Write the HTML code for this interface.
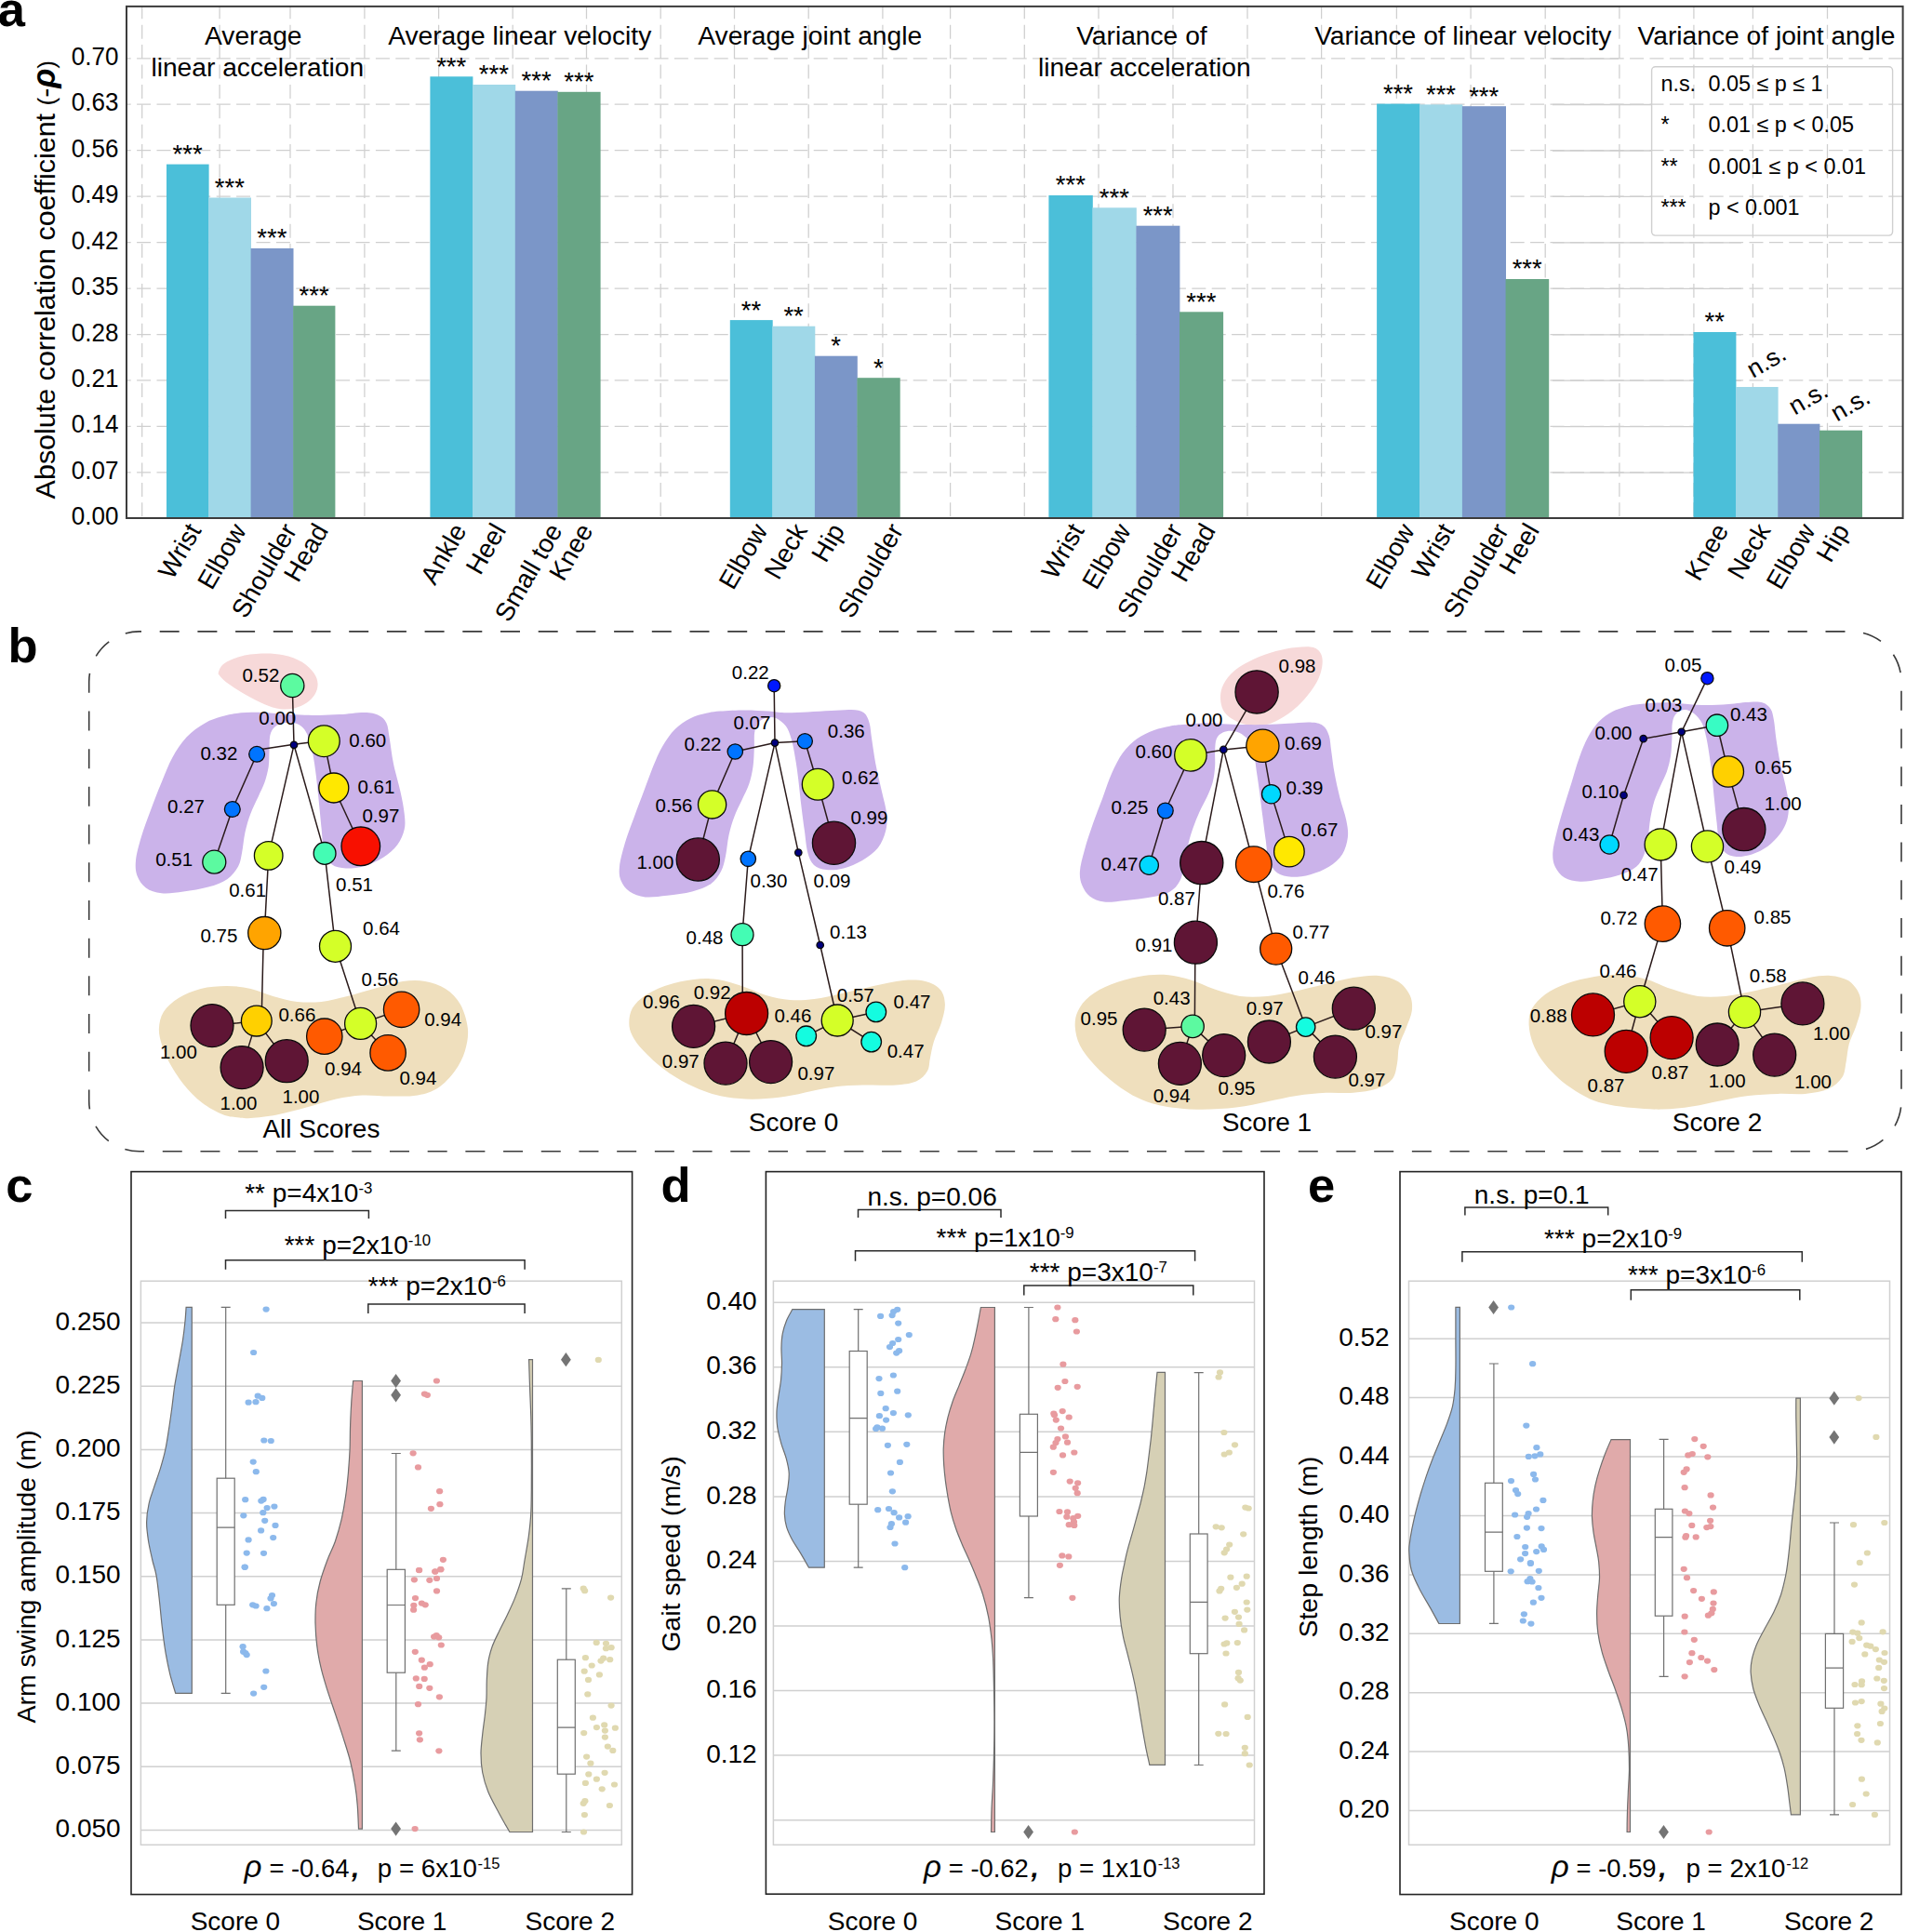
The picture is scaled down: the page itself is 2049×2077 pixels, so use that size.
<!DOCTYPE html>
<html><head><meta charset="utf-8"><title>Figure</title>
<style>
html,body{margin:0;padding:0;background:#fff;}
body{width:2049px;height:2077px;overflow:hidden;}
svg{display:block;font-family:"Liberation Sans",sans-serif;}
text{fill:#000;}
</style></head><body>
<svg width="2049" height="2077" viewBox="0 0 2049 2077">
<rect x="0" y="0" width="2049" height="2077" fill="#fff"/>
<g id="panel-a">
<path d="M1669 508.1H1872 M1669 458.7H1872 M1669 409.2H1872 M1669 359.8H1872 M1669 310.3H1872 M1669 260.9H1872 M1669 211.4H1872 M1669 162.0H1872 M1669 112.5H1872 M1669 63.1H1740" stroke="#cdcdcd" stroke-width="1.3" fill="none"/>
<rect x="1775.6" y="71.8" width="259" height="181.3" rx="4" fill="#fff"/>
<path d="M152.7 6.9V557.0 M236.1 6.9V557.0 M312 6.9V557.0 M391.9 6.9V557.0 M471.6 6.9V557.0 M551.2 6.9V557.0 M630.5 6.9V557.0 M710.2 6.9V557.0 M789.5 6.9V557.0 M869.2 6.9V557.0 M948.9 6.9V557.0 M1021.6 6.9V557.0 M1101.3 6.9V557.0 M1181 6.9V557.0 M1261 6.9V557.0 M1341 6.9V557.0 M1420.6 6.9V557.0 M1501.4 6.9V557.0 M1581.1 6.9V557.0 M1661.2 6.9V557.0 M1740.9 6.9V557.0 M1820.9 6.9V557.0 M1884.4 6.9V557.0 M1964.5 6.9V557.0" stroke="#cfcfcf" stroke-width="1.25" stroke-dasharray="15 6.4" stroke-dashoffset="1.6" fill="none"/>
<path d="M136.0 507.8H2045.6 M136.0 458.4H2045.6 M136.0 408.9H2045.6 M136.0 359.5H2045.6 M136.0 310.0H2045.6 M136.0 260.6H2045.6 M136.0 211.1H2045.6 M136.0 161.7H2045.6 M136.0 112.2H2045.6 M136.0 62.8H2045.6" stroke="#cfcfcf" stroke-width="1.25" stroke-dasharray="15 6.4" stroke-dashoffset="-11.1" fill="none"/>
<rect x="179.0" y="176.6" width="45.6" height="380.4" fill="#4bbfd9"/>
<rect x="224.2" y="212.5" width="45.8" height="344.5" fill="#a0d8e8"/>
<rect x="269.6" y="267.0" width="45.9" height="290.0" fill="#7b96c8"/>
<rect x="315.1" y="328.7" width="45.3" height="228.3" fill="#68a585"/>
<text x="201.6" y="175.0" font-size="27.5" text-anchor="middle">***</text>
<text transform="translate(217.0,570.0) rotate(-60)" font-size="27.8" text-anchor="end">Wrist</text>
<text x="246.9" y="210.9" font-size="27.5" text-anchor="middle">***</text>
<text transform="translate(265.5,570.0) rotate(-60)" font-size="27.8" text-anchor="end">Elbow</text>
<text x="292.4" y="265.4" font-size="27.5" text-anchor="middle">***</text>
<text transform="translate(319.8,570.0) rotate(-60)" font-size="27.8" text-anchor="end">Shoulder</text>
<text x="337.6" y="327.1" font-size="27.5" text-anchor="middle">***</text>
<text transform="translate(353.8,570.0) rotate(-60)" font-size="27.8" text-anchor="end">Head</text>
<rect x="462.4" y="82.3" width="46.0" height="474.7" fill="#4bbfd9"/>
<rect x="508.0" y="91.0" width="46.2" height="466.0" fill="#a0d8e8"/>
<rect x="553.8" y="97.7" width="46.0" height="459.3" fill="#7b96c8"/>
<rect x="599.4" y="98.8" width="46.2" height="458.2" fill="#68a585"/>
<text x="485.2" y="80.7" font-size="27.5" text-anchor="middle">***</text>
<text transform="translate(502.3,570.0) rotate(-60)" font-size="27.8" text-anchor="end">Ankle</text>
<text x="530.9" y="89.4" font-size="27.5" text-anchor="middle">***</text>
<text transform="translate(544.9,570.0) rotate(-60)" font-size="27.8" text-anchor="end">Heel</text>
<text x="576.6" y="96.1" font-size="27.5" text-anchor="middle">***</text>
<text transform="translate(605.2,570.0) rotate(-60)" font-size="27.8" text-anchor="end">Small toe</text>
<text x="622.3" y="97.2" font-size="27.5" text-anchor="middle">***</text>
<text transform="translate(638.2,570.0) rotate(-60)" font-size="27.8" text-anchor="end">Knee</text>
<rect x="784.8" y="344.1" width="45.9" height="212.9" fill="#4bbfd9"/>
<rect x="830.3" y="350.7" width="46.0" height="206.3" fill="#a0d8e8"/>
<rect x="875.9" y="382.7" width="45.9" height="174.3" fill="#7b96c8"/>
<rect x="921.4" y="406.2" width="46.3" height="150.8" fill="#68a585"/>
<text x="807.5" y="342.5" font-size="27.5" text-anchor="middle">**</text>
<text transform="translate(826.1,570.0) rotate(-60)" font-size="27.8" text-anchor="end">Elbow</text>
<text x="853.1" y="349.1" font-size="27.5" text-anchor="middle">**</text>
<text transform="translate(868.6,570.0) rotate(-60)" font-size="27.8" text-anchor="end">Neck</text>
<text x="898.6" y="381.1" font-size="27.5" text-anchor="middle">*</text>
<text transform="translate(908.7,570.0) rotate(-60)" font-size="27.8" text-anchor="end">Hip</text>
<text x="944.3" y="404.6" font-size="27.5" text-anchor="middle">*</text>
<text transform="translate(971.8,570.0) rotate(-60)" font-size="27.8" text-anchor="end">Shoulder</text>
<rect x="1127.4" y="210.0" width="47.4" height="347.0" fill="#4bbfd9"/>
<rect x="1174.4" y="223.3" width="47.4" height="333.7" fill="#a0d8e8"/>
<rect x="1221.4" y="242.7" width="47.0" height="314.3" fill="#7b96c8"/>
<rect x="1268.0" y="335.3" width="47.1" height="221.7" fill="#68a585"/>
<text x="1150.9" y="208.4" font-size="27.5" text-anchor="middle">***</text>
<text transform="translate(1166.3,570.0) rotate(-60)" font-size="27.8" text-anchor="end">Wrist</text>
<text x="1197.9" y="221.7" font-size="27.5" text-anchor="middle">***</text>
<text transform="translate(1216.5,570.0) rotate(-60)" font-size="27.8" text-anchor="end">Elbow</text>
<text x="1244.7" y="241.1" font-size="27.5" text-anchor="middle">***</text>
<text transform="translate(1272.2,570.0) rotate(-60)" font-size="27.8" text-anchor="end">Shoulder</text>
<text x="1291.3" y="333.7" font-size="27.5" text-anchor="middle">***</text>
<text transform="translate(1307.6,570.0) rotate(-60)" font-size="27.8" text-anchor="end">Head</text>
<rect x="1480.1" y="111.6" width="46.3" height="445.4" fill="#4bbfd9"/>
<rect x="1526.0" y="112.4" width="46.3" height="444.6" fill="#a0d8e8"/>
<rect x="1571.9" y="114.2" width="47.1" height="442.8" fill="#7b96c8"/>
<rect x="1618.6" y="300.0" width="46.6" height="257.0" fill="#68a585"/>
<text x="1503.0" y="110.0" font-size="27.5" text-anchor="middle">***</text>
<text transform="translate(1521.6,570.0) rotate(-60)" font-size="27.8" text-anchor="end">Elbow</text>
<text x="1549.0" y="110.8" font-size="27.5" text-anchor="middle">***</text>
<text transform="translate(1564.3,570.0) rotate(-60)" font-size="27.8" text-anchor="end">Wrist</text>
<text x="1595.2" y="112.6" font-size="27.5" text-anchor="middle">***</text>
<text transform="translate(1622.7,570.0) rotate(-60)" font-size="27.8" text-anchor="end">Shoulder</text>
<text x="1641.7" y="298.4" font-size="27.5" text-anchor="middle">***</text>
<text transform="translate(1655.7,570.0) rotate(-60)" font-size="27.8" text-anchor="end">Heel</text>
<rect x="1820.5" y="357.0" width="45.9" height="200.0" fill="#4bbfd9"/>
<rect x="1866.0" y="416.0" width="45.6" height="141.0" fill="#a0d8e8"/>
<rect x="1911.2" y="455.7" width="45.2" height="101.3" fill="#7b96c8"/>
<rect x="1956.0" y="462.7" width="46.0" height="94.3" fill="#68a585"/>
<text x="1843.2" y="355.4" font-size="27.5" text-anchor="middle">**</text>
<text transform="translate(1859.1,570.0) rotate(-60)" font-size="27.8" text-anchor="end">Knee</text>
<text transform="translate(1884.6,407.0) rotate(-30)" font-size="27" text-anchor="start">n.s.</text>
<text transform="translate(1904.1,570.0) rotate(-60)" font-size="27.8" text-anchor="end">Neck</text>
<text transform="translate(1929.6,446.7) rotate(-30)" font-size="27" text-anchor="start">n.s.</text>
<text transform="translate(1952.2,570.0) rotate(-60)" font-size="27.8" text-anchor="end">Elbow</text>
<text transform="translate(1974.8,453.7) rotate(-30)" font-size="27" text-anchor="start">n.s.</text>
<text transform="translate(1988.9,570.0) rotate(-60)" font-size="27.8" text-anchor="end">Hip</text>
<rect x="136.0" y="6.9" width="1909.6" height="550.1" fill="none" stroke="#3c3c3c" stroke-width="2"/>
<text x="127.4" y="564.3" font-size="28" textLength="50.6" lengthAdjust="spacingAndGlyphs" text-anchor="end">0.00</text>
<text x="127.4" y="514.8" font-size="28" textLength="50.6" lengthAdjust="spacingAndGlyphs" text-anchor="end">0.07</text>
<text x="127.4" y="465.4" font-size="28" textLength="50.6" lengthAdjust="spacingAndGlyphs" text-anchor="end">0.14</text>
<text x="127.4" y="415.9" font-size="28" textLength="50.6" lengthAdjust="spacingAndGlyphs" text-anchor="end">0.21</text>
<text x="127.4" y="366.5" font-size="28" textLength="50.6" lengthAdjust="spacingAndGlyphs" text-anchor="end">0.28</text>
<text x="127.4" y="317.0" font-size="28" textLength="50.6" lengthAdjust="spacingAndGlyphs" text-anchor="end">0.35</text>
<text x="127.4" y="267.6" font-size="28" textLength="50.6" lengthAdjust="spacingAndGlyphs" text-anchor="end">0.42</text>
<text x="127.4" y="218.1" font-size="28" textLength="50.6" lengthAdjust="spacingAndGlyphs" text-anchor="end">0.49</text>
<text x="127.4" y="168.7" font-size="28" textLength="50.6" lengthAdjust="spacingAndGlyphs" text-anchor="end">0.56</text>
<text x="127.4" y="119.2" font-size="28" textLength="50.6" lengthAdjust="spacingAndGlyphs" text-anchor="end">0.63</text>
<text x="127.4" y="69.8" font-size="28" textLength="50.6" lengthAdjust="spacingAndGlyphs" text-anchor="end">0.70</text>
<text transform="translate(58.8,536.4) rotate(-90)" font-size="30" textLength="414.5" lengthAdjust="spacingAndGlyphs">Absolute correlation coefficient</text>
<text transform="translate(58.8,113.5) rotate(-90)" font-size="30"><tspan font-size="26">(</tspan><tspan dx="0">-</tspan><tspan font-style="italic" font-weight="bold" font-size="35" dx="0">ρ</tspan><tspan dx="0" font-size="26">)</tspan></text>
<text x="272.3" y="47.7" font-size="28.2" text-anchor="middle">Average</text>
<text x="276.8" y="81.8" font-size="28.2" text-anchor="middle">linear acceleration</text>
<text x="558.7" y="47.7" font-size="28.2" text-anchor="middle">Average linear velocity</text>
<text x="870.7" y="47.5" font-size="28.2" text-anchor="middle">Average joint angle</text>
<text x="1227.4" y="47.5" font-size="28.2" text-anchor="middle">Variance of</text>
<text x="1230.3" y="81.7" font-size="28.2" text-anchor="middle">linear acceleration</text>
<text x="1572.7" y="47.5" font-size="28.2" text-anchor="middle">Variance of linear velocity</text>
<text x="1899.0" y="47.5" font-size="28.2" text-anchor="middle">Variance of joint angle</text>
<rect x="1775.6" y="71.8" width="259" height="181.3" rx="4" fill="none" stroke="#cfcfcf" stroke-width="1.4"/>
<text x="1785.4" y="97.8" font-size="23.4">n.s.</text>
<text x="1836.4" y="97.8" font-size="23.4">0.05 ≤ p ≤ 1</text>
<text x="1785.4" y="142.3" font-size="23.4">*</text>
<text x="1836.4" y="142.3" font-size="23.4">0.01 ≤ p &lt; 0.05</text>
<text x="1785.4" y="186.7" font-size="23.4">**</text>
<text x="1836.4" y="186.7" font-size="23.4">0.001 ≤ p &lt; 0.01</text>
<text x="1785.4" y="231.4" font-size="23.4">***</text>
<text x="1836.4" y="231.4" font-size="23.4">p &lt; 0.001</text>
<text x="-2.2" y="28.2" font-size="52.5" font-weight="bold">a</text>
</g>
<g id="panel-b">
<rect x="95.7" y="678.9" width="1948.3" height="558.9" rx="54" ry="54" fill="none" stroke="#3a3a3a" stroke-width="1.6" stroke-dasharray="21 19.7" stroke-dashoffset="-22"/>
<text x="8.4" y="712.2" font-size="52.5" font-weight="bold">b</text>
<path d="M234.9 722.7C235.6 720.5 237.0 716.3 240.8 713.5C244.6 710.7 250.9 707.8 257.6 706.0C264.3 704.1 273.3 702.9 281.1 702.6C288.9 702.3 297.3 702.7 304.6 704.3C311.9 705.8 319.3 708.6 324.8 711.8C330.2 715.0 334.6 719.7 337.4 723.6C340.2 727.5 341.4 731.4 341.6 735.3C341.7 739.3 340.2 743.7 338.2 747.1C336.2 750.4 333.4 753.1 329.8 755.5C326.2 757.9 321.1 760.2 316.4 761.4C311.6 762.5 306.6 762.9 301.3 762.2C295.9 761.5 290.6 759.7 284.5 757.2C278.3 754.6 270.8 750.7 264.3 747.1C257.9 743.4 250.5 738.7 245.8 735.3C241.2 732.0 238.4 729.0 236.6 726.9C234.8 724.8 234.2 725.0 234.9 722.7Z" fill="#f7d9d9"/>
<path d="M254.2 766.9C261.5 766.1 272.4 765.7 281.1 765.9C289.8 766.0 296.5 767.2 306.3 767.7C316.1 768.2 330.1 768.9 339.9 768.9C349.7 769.0 356.4 768.6 365.1 768.1C373.7 767.6 384.9 765.7 391.9 765.9C398.9 766.0 403.1 767.0 407.0 768.9C410.9 770.8 413.5 773.1 415.4 777.3C417.4 781.5 417.5 786.8 418.8 794.1C420.0 801.4 421.0 811.4 423.0 821.0C424.9 830.5 428.6 842.2 430.5 851.2C432.5 860.1 434.0 868.0 434.7 874.7C435.4 881.4 436.0 885.9 434.7 891.5C433.5 897.1 431.0 903.2 427.2 908.3C423.4 913.3 417.9 917.9 412.1 921.7C406.2 925.5 398.6 929.0 391.9 930.9C385.2 932.9 377.6 933.7 371.8 933.5C365.9 933.2 360.6 932.3 356.7 929.3C352.7 926.2 350.1 921.3 348.3 915.0C346.4 908.7 346.7 901.0 345.7 891.5C344.8 882.0 343.5 868.5 342.4 857.9C341.3 847.3 340.2 836.1 339.0 827.7C337.9 819.3 336.9 813.4 335.7 807.5C334.4 801.7 333.2 796.6 331.5 792.4C329.8 788.2 328.1 784.9 325.6 782.3C323.1 779.8 319.9 778.1 316.4 777.3C312.9 776.5 308.1 776.6 304.6 777.3C301.1 778.0 297.8 779.3 295.4 781.5C293.0 783.7 291.3 786.4 290.3 790.7C289.4 795.1 289.8 801.9 289.5 807.5C289.2 813.1 289.5 818.7 288.7 824.3C287.8 829.9 286.3 835.8 284.5 841.1C282.6 846.4 280.3 850.6 277.8 856.2C275.2 861.8 271.7 868.3 269.4 874.7C267.0 881.1 265.0 887.8 263.5 894.8C261.9 901.8 261.4 910.5 260.1 916.7C258.9 922.8 258.6 927.0 255.9 931.8C253.3 936.5 249.5 941.6 244.2 945.2C238.9 948.8 231.9 951.4 224.0 953.6C216.2 955.8 205.6 957.5 197.2 958.6C188.8 959.8 180.4 961.0 173.7 960.3C166.9 959.6 161.2 957.5 156.9 954.4C152.5 951.4 149.4 946.7 147.6 941.8C145.8 936.9 145.3 932.1 146.0 925.1C146.6 918.1 149.2 908.8 151.8 899.9C154.5 890.9 158.3 881.1 161.9 871.3C165.5 861.5 169.7 850.6 173.7 841.1C177.6 831.6 180.9 822.4 185.4 814.2C189.9 806.1 194.6 798.6 200.5 792.4C206.4 786.3 214.5 780.9 220.7 777.3C226.8 773.7 231.9 772.3 237.5 770.6C243.1 768.9 247.0 767.7 254.2 766.9Z" fill="#cbb3ea"/>
<path d="M170.9 1105.8C171.2 1099.8 172.4 1093.3 175.9 1087.8C179.4 1082.3 185.2 1077.0 191.9 1072.9C198.5 1068.7 207.2 1065.1 215.8 1062.9C224.4 1060.7 234.7 1059.9 243.7 1059.9C252.7 1059.9 261.3 1061.1 269.6 1062.9C277.9 1064.7 285.2 1068.5 293.5 1070.9C301.8 1073.2 310.8 1075.9 319.5 1076.9C328.1 1077.8 336.4 1077.8 345.4 1076.9C354.3 1075.9 363.3 1073.4 373.3 1070.9C383.3 1068.4 395.2 1064.6 405.2 1061.9C415.2 1059.2 424.5 1056.1 433.1 1054.9C441.7 1053.8 449.4 1053.6 457.0 1054.9C464.7 1056.2 472.6 1058.7 478.9 1062.9C485.3 1067.0 490.9 1072.7 494.9 1079.8C498.9 1087.0 502.0 1097.5 502.9 1105.8C503.7 1114.1 502.2 1122.0 499.9 1129.7C497.6 1137.3 493.7 1145.0 488.9 1151.6C484.1 1158.3 477.6 1165.2 471.0 1169.6C464.3 1173.9 457.7 1176.0 449.0 1177.5C440.4 1179.0 429.1 1178.5 419.1 1178.5C409.2 1178.5 398.9 1177.0 389.2 1177.5C379.6 1178.0 371.3 1179.4 361.3 1181.5C351.4 1183.7 340.1 1187.7 329.4 1190.5C318.8 1193.3 307.5 1196.5 297.5 1198.5C287.6 1200.4 276.7 1201.5 269.6 1202.0C262.5 1202.5 260.0 1202.0 254.9 1201.3C249.8 1200.6 245.5 1200.7 239.2 1198.0C232.9 1195.3 224.2 1190.8 217.2 1185.4C210.2 1180.0 203.1 1172.8 197.2 1165.4C191.2 1158.1 185.3 1148.3 181.5 1141.3C177.7 1134.3 175.9 1129.4 174.1 1123.5C172.3 1117.6 170.6 1111.7 170.9 1105.8Z" fill="#efdfbd"/>
<path d="M314.3 737.0L316.0 800.8M316.0 800.3L281.0 805.5M276.1 810.8L249.8 870.0M249.8 870.0L230.3 926.7M316.0 800.3L340.0 797.3M348.3 796.7L358.8 847.0M358.8 847.0L387.8 909.8M316.0 800.8L288.7 919.9M316.0 800.8L349.1 917.4M288.7 919.9L284.3 1003.1M349.1 917.4L360.5 1017.3M283.2 1010.0L281.3 1090.0M360.5 1017.3L387.6 1100.4M275.8 1097.6L228.0 1102.6M275.8 1097.6L260.1 1147.6M275.8 1097.6L308.2 1140.7M387.6 1100.4L348.8 1114.2M387.6 1100.4L431.6 1085.3M387.6 1100.4L417.1 1131.9" stroke="#2a1a1a" stroke-width="1.5" fill="none"/>
<circle cx="314.3" cy="737.0" r="12.6" fill="#5cfaa0" stroke="#0a0a0a" stroke-width="1.3"/>
<circle cx="316.0" cy="800.8" r="3.7" fill="#00007f" stroke="#0a0a0a" stroke-width="1.3"/>
<circle cx="276.1" cy="810.8" r="8.4" fill="#0074ff" stroke="#0a0a0a" stroke-width="1.3"/>
<circle cx="249.8" cy="870.0" r="8.4" fill="#0074ff" stroke="#0a0a0a" stroke-width="1.3"/>
<circle cx="230.3" cy="926.7" r="12.5" fill="#5cfaa0" stroke="#0a0a0a" stroke-width="1.3"/>
<circle cx="348.3" cy="796.7" r="16.9" fill="#d4ff28" stroke="#0a0a0a" stroke-width="1.3"/>
<circle cx="358.8" cy="847.0" r="16.0" fill="#ffe800" stroke="#0a0a0a" stroke-width="1.3"/>
<circle cx="387.8" cy="909.8" r="20.8" fill="#f81000" stroke="#0a0a0a" stroke-width="1.3"/>
<circle cx="288.7" cy="919.9" r="15.3" fill="#d4ff28" stroke="#0a0a0a" stroke-width="1.3"/>
<circle cx="349.1" cy="917.4" r="11.9" fill="#44fcb4" stroke="#0a0a0a" stroke-width="1.3"/>
<circle cx="284.3" cy="1003.1" r="17.6" fill="#ffa400" stroke="#0a0a0a" stroke-width="1.3"/>
<circle cx="360.5" cy="1017.3" r="17.0" fill="#d4ff28" stroke="#0a0a0a" stroke-width="1.3"/>
<circle cx="275.8" cy="1097.6" r="16.4" fill="#ffd000" stroke="#0a0a0a" stroke-width="1.3"/>
<circle cx="387.6" cy="1100.4" r="17.0" fill="#d4ff28" stroke="#0a0a0a" stroke-width="1.3"/>
<circle cx="228.0" cy="1102.6" r="23.0" fill="#5f1535" stroke="#0a0a0a" stroke-width="1.3"/>
<circle cx="260.1" cy="1147.6" r="23.0" fill="#5f1535" stroke="#0a0a0a" stroke-width="1.3"/>
<circle cx="308.2" cy="1140.7" r="23.0" fill="#5f1535" stroke="#0a0a0a" stroke-width="1.3"/>
<circle cx="348.8" cy="1114.2" r="19.2" fill="#ff5a00" stroke="#0a0a0a" stroke-width="1.3"/>
<circle cx="431.6" cy="1085.3" r="19.2" fill="#ff5a00" stroke="#0a0a0a" stroke-width="1.3"/>
<circle cx="417.1" cy="1131.9" r="19.2" fill="#ff5a00" stroke="#0a0a0a" stroke-width="1.3"/>
<text x="260.4" y="733.0" font-size="20.5">0.52</text>
<text x="278.3" y="779.0" font-size="20.5">0.00</text>
<text x="215.4" y="817.4" font-size="20.5">0.32</text>
<text x="180.1" y="874.1" font-size="20.5">0.27</text>
<text x="167.2" y="931.4" font-size="20.5">0.51</text>
<text x="375.3" y="803.2" font-size="20.5">0.60</text>
<text x="384.4" y="852.7" font-size="20.5">0.61</text>
<text x="389.4" y="883.5" font-size="20.5">0.97</text>
<text x="246.2" y="963.8" font-size="20.5">0.61</text>
<text x="361.1" y="958.4" font-size="20.5">0.51</text>
<text x="215.4" y="1013.2" font-size="20.5">0.75</text>
<text x="390.1" y="1005.3" font-size="20.5">0.64</text>
<text x="388.5" y="1059.8" font-size="20.5">0.56</text>
<text x="299.4" y="1098.2" font-size="20.5">0.66</text>
<text x="171.9" y="1137.5" font-size="20.5">1.00</text>
<text x="236.5" y="1192.6" font-size="20.5">1.00</text>
<text x="303.5" y="1185.7" font-size="20.5">1.00</text>
<text x="349.1" y="1156.4" font-size="20.5">0.94</text>
<text x="456.2" y="1103.2" font-size="20.5">0.94</text>
<text x="429.4" y="1165.9" font-size="20.5">0.94</text>
<text x="345.4" y="1223.4" font-size="28" text-anchor="middle">All Scores</text>
<path d="M774.2 764.6C781.2 764.1 792.4 763.5 801.1 763.5C809.8 763.5 819.3 764.2 826.3 764.6C833.3 765.1 836.1 766.2 843.1 766.3C850.1 766.5 859.9 765.8 868.3 765.5C876.7 765.1 885.6 764.6 893.5 764.1C901.3 763.7 909.4 762.6 915.3 763.0C921.2 763.3 925.5 763.9 928.7 766.3C931.9 768.7 933.2 772.6 934.6 777.2C936.0 781.9 936.0 786.7 937.1 794.0C938.2 801.3 939.5 811.4 941.3 820.9C943.1 830.4 946.1 842.2 948.0 851.1C950.0 860.1 952.4 867.6 953.1 874.6C953.8 881.6 953.8 886.9 952.2 893.1C950.7 899.2 948.0 906.2 943.8 911.6C939.6 916.9 933.2 921.3 927.0 925.0C920.9 928.6 913.3 931.7 906.9 933.4C900.4 935.1 893.7 935.6 888.4 935.1C883.1 934.5 878.3 933.1 875.0 930.0C871.6 926.9 869.9 922.7 868.3 916.6C866.6 910.4 866.0 901.2 864.9 893.1C863.8 885.0 862.7 877.1 861.6 867.9C860.4 858.7 859.3 846.6 858.2 837.7C857.1 828.7 856.1 821.4 854.8 814.2C853.6 806.9 852.3 799.6 850.6 794.0C849.0 788.4 847.4 784.2 844.8 780.6C842.1 777.0 838.0 773.7 834.7 772.2C831.3 770.7 827.8 770.7 824.6 771.4C821.4 772.1 817.6 773.7 815.4 776.4C813.1 779.1 811.9 782.7 811.2 787.3C810.4 791.9 811.1 797.9 810.8 804.1C810.6 810.3 810.4 817.8 809.5 824.2C808.6 830.7 807.3 836.8 805.3 842.7C803.3 848.6 800.4 853.6 797.8 859.5C795.1 865.4 791.7 871.5 789.4 878.0C787.0 884.4 785.0 891.1 783.5 898.1C781.9 905.1 781.5 913.5 780.1 919.9C778.7 926.4 777.7 931.7 775.1 936.7C772.4 941.8 769.3 946.5 764.2 950.2C759.0 953.8 751.9 956.5 744.0 958.6C736.2 960.7 725.6 961.8 717.2 962.8C708.8 963.7 700.4 965.1 693.7 964.4C686.9 963.7 681.2 961.5 676.9 958.6C672.5 955.6 669.4 951.3 667.6 946.8C665.8 942.3 665.3 938.4 666.0 931.7C666.6 925.0 669.2 915.5 671.8 906.5C674.5 897.6 678.5 887.2 681.9 878.0C685.3 868.7 688.6 860.1 692.0 851.1C695.3 842.2 698.7 832.4 702.0 824.2C705.4 816.1 708.2 809.1 712.1 802.4C716.0 795.7 720.5 789.0 725.6 783.9C730.6 778.9 736.7 775.1 742.3 772.2C747.9 769.3 753.8 768.1 759.1 766.8C764.5 765.6 767.2 765.2 774.2 764.6Z" fill="#cbb3ea"/>
<path d="M676.3 1099.8C676.3 1094.8 677.0 1088.8 679.9 1083.8C682.9 1078.8 687.6 1074.0 693.9 1069.9C700.2 1065.7 709.2 1061.7 717.8 1058.9C726.5 1056.1 736.8 1053.9 745.7 1052.9C754.7 1051.9 763.0 1051.8 771.6 1052.9C780.3 1054.1 788.9 1057.1 797.6 1059.9C806.2 1062.7 814.8 1067.4 823.5 1069.9C832.1 1072.4 840.8 1074.2 849.4 1074.9C858.0 1075.5 866.0 1075.0 875.3 1073.9C884.6 1072.7 894.6 1070.2 905.2 1067.9C915.8 1065.6 928.1 1062.2 939.1 1059.9C950.1 1057.6 961.7 1054.8 971.0 1053.9C980.3 1053.1 988.3 1053.3 994.9 1054.9C1001.6 1056.6 1007.4 1059.7 1010.9 1063.9C1014.4 1068.0 1015.7 1073.9 1015.9 1079.8C1016.0 1085.8 1013.9 1093.1 1011.9 1099.8C1009.9 1106.4 1005.9 1113.4 1003.9 1119.7C1001.9 1126.0 1001.1 1132.3 999.9 1137.7C998.7 1143.0 999.4 1147.5 996.9 1151.6C994.4 1155.8 990.6 1160.1 985.0 1162.6C979.3 1165.1 971.3 1165.9 963.0 1166.6C954.7 1167.2 944.8 1166.4 935.1 1166.6C925.5 1166.7 914.5 1166.7 905.2 1167.6C895.9 1168.4 888.3 1169.9 879.3 1171.5C870.3 1173.2 860.7 1175.9 851.4 1177.5C842.1 1179.1 832.8 1180.5 823.5 1181.1C814.2 1181.7 804.9 1181.9 795.6 1181.1C786.3 1180.4 777.0 1179.1 767.7 1176.5C758.4 1173.9 748.7 1170.1 739.7 1165.6C730.8 1161.1 721.8 1155.6 713.8 1149.6C705.9 1143.6 697.5 1135.7 691.9 1129.7C686.2 1123.7 682.5 1118.7 679.9 1113.7C677.3 1108.7 676.3 1104.8 676.3 1099.8Z" fill="#efdfbd"/>
<path d="M832.2 737.2L833.0 798.6M833.0 798.6L790.3 808.0M790.3 808.0L765.6 864.9M765.6 864.9L750.3 924.0M833.0 798.6L865.3 796.8M865.3 796.8L879.2 843.3M879.2 843.3L896.5 906.3M833.0 798.6L804.3 923.3M833.0 798.6L858.3 916.6M804.3 923.3L798.0 1004.7M858.3 916.6L881.7 1016.0M798.1 1010.0L798.3 1080.0M881.7 1016.0L900.2 1097.0M802.6 1089.5L745.6 1103.4M802.6 1089.5L780.0 1143.1M802.6 1089.5L828.6 1141.6M900.2 1097.0L866.7 1113.8M900.2 1097.0L941.8 1087.9M900.2 1097.0L936.7 1120.1" stroke="#2a1a1a" stroke-width="1.5" fill="none"/>
<circle cx="832.2" cy="737.2" r="6.6" fill="#0018ff" stroke="#0a0a0a" stroke-width="1.3"/>
<circle cx="833.0" cy="798.6" r="3.7" fill="#00007f" stroke="#0a0a0a" stroke-width="1.3"/>
<circle cx="790.3" cy="808.0" r="8.2" fill="#0074ff" stroke="#0a0a0a" stroke-width="1.3"/>
<circle cx="765.6" cy="864.9" r="15.1" fill="#d4ff28" stroke="#0a0a0a" stroke-width="1.3"/>
<circle cx="750.3" cy="924.0" r="23.1" fill="#5f1535" stroke="#0a0a0a" stroke-width="1.3"/>
<circle cx="865.3" cy="796.8" r="8.1" fill="#0074ff" stroke="#0a0a0a" stroke-width="1.3"/>
<circle cx="879.2" cy="843.3" r="16.9" fill="#d4ff28" stroke="#0a0a0a" stroke-width="1.3"/>
<circle cx="896.5" cy="906.3" r="23.1" fill="#5f1535" stroke="#0a0a0a" stroke-width="1.3"/>
<circle cx="804.3" cy="923.3" r="8.2" fill="#0074ff" stroke="#0a0a0a" stroke-width="1.3"/>
<circle cx="858.3" cy="916.6" r="3.7" fill="#00007f" stroke="#0a0a0a" stroke-width="1.3"/>
<circle cx="798.0" cy="1004.7" r="12.0" fill="#44fcb4" stroke="#0a0a0a" stroke-width="1.3"/>
<circle cx="881.7" cy="1016.0" r="3.7" fill="#00007f" stroke="#0a0a0a" stroke-width="1.3"/>
<circle cx="802.6" cy="1089.5" r="23.0" fill="#bc0000" stroke="#0a0a0a" stroke-width="1.3"/>
<circle cx="900.2" cy="1097.0" r="17.0" fill="#d4ff28" stroke="#0a0a0a" stroke-width="1.3"/>
<circle cx="745.6" cy="1103.4" r="23.0" fill="#5f1535" stroke="#0a0a0a" stroke-width="1.3"/>
<circle cx="780.0" cy="1143.1" r="23.0" fill="#5f1535" stroke="#0a0a0a" stroke-width="1.3"/>
<circle cx="828.6" cy="1141.6" r="23.0" fill="#5f1535" stroke="#0a0a0a" stroke-width="1.3"/>
<circle cx="866.7" cy="1113.8" r="10.8" fill="#14fce0" stroke="#0a0a0a" stroke-width="1.3"/>
<circle cx="941.8" cy="1087.9" r="10.8" fill="#14fce0" stroke="#0a0a0a" stroke-width="1.3"/>
<circle cx="936.7" cy="1120.1" r="10.8" fill="#14fce0" stroke="#0a0a0a" stroke-width="1.3"/>
<text x="786.8" y="730.2" font-size="20.5">0.22</text>
<text x="788.5" y="784.0" font-size="20.5">0.07</text>
<text x="735.6" y="806.6" font-size="20.5">0.22</text>
<text x="889.8" y="792.7" font-size="20.5">0.36</text>
<text x="704.6" y="872.9" font-size="20.5">0.56</text>
<text x="904.9" y="842.7" font-size="20.5">0.62</text>
<text x="684.4" y="934.2" font-size="20.5">1.00</text>
<text x="914.4" y="886.0" font-size="20.5">0.99</text>
<text x="806.5" y="954.4" font-size="20.5">0.30</text>
<text x="874.6" y="954.4" font-size="20.5">0.09</text>
<text x="690.9" y="1084.2" font-size="20.5">0.96</text>
<text x="745.7" y="1073.5" font-size="20.5">0.92</text>
<text x="832.4" y="1098.8" font-size="20.5">0.46</text>
<text x="899.8" y="1076.8" font-size="20.5">0.57</text>
<text x="960.6" y="1083.8" font-size="20.5">0.47</text>
<text x="953.7" y="1136.7" font-size="20.5">0.47</text>
<text x="711.8" y="1147.6" font-size="20.5">0.97</text>
<text x="857.4" y="1160.6" font-size="20.5">0.97</text>
<text x="737.6" y="1014.8" font-size="20.5">0.48</text>
<text x="892.1" y="1008.5" font-size="20.5">0.13</text>
<text x="853.0" y="1215.5" font-size="28" text-anchor="middle">Score 0</text>
<path d="M1411.9 696.0C1416.4 697.2 1418.8 700.0 1420.3 703.5C1421.9 707.0 1422.0 711.9 1421.2 716.9C1420.3 722.0 1418.5 727.9 1415.3 733.7C1412.1 739.6 1406.9 746.6 1401.8 752.2C1396.8 757.8 1390.9 763.1 1385.1 767.3C1379.2 771.5 1372.7 775.3 1366.6 777.4C1360.4 779.5 1354.3 780.2 1348.1 779.9C1342.0 779.6 1335.0 778.1 1329.7 775.7C1324.3 773.3 1319.2 769.8 1316.2 765.6C1313.3 761.4 1312.2 755.6 1312.0 750.5C1311.9 745.5 1312.7 740.4 1315.4 735.4C1318.0 730.4 1322.5 724.8 1328.0 720.3C1333.4 715.8 1340.8 711.9 1348.1 708.5C1355.4 705.2 1364.1 702.2 1371.6 700.1C1379.2 698.0 1386.7 696.6 1393.5 696.0C1400.2 695.3 1407.4 694.7 1411.9 696.0Z" fill="#f7d9d9"/>
<path d="M1270.9 779.1C1276.8 778.5 1285.4 777.5 1292.7 777.4C1300.0 777.2 1307.5 777.9 1314.5 778.2C1321.5 778.5 1327.1 778.9 1334.7 779.1C1342.2 779.2 1351.5 779.3 1359.9 779.1C1368.3 778.8 1376.9 778.1 1385.1 777.7C1393.2 777.3 1402.4 776.2 1408.6 776.5C1414.7 776.9 1418.6 777.5 1422.0 779.9C1425.4 782.3 1427.2 786.2 1428.7 790.8C1430.2 795.4 1430.2 800.9 1431.2 807.6C1432.2 814.3 1433.0 822.7 1434.6 831.1C1436.1 839.5 1438.4 849.6 1440.5 858.0C1442.6 866.4 1445.8 874.5 1447.2 881.5C1448.6 888.5 1449.6 893.8 1448.9 899.9C1448.2 906.1 1446.3 913.1 1443.0 918.4C1439.6 923.7 1434.4 928.2 1428.7 931.8C1423.0 935.5 1415.3 938.4 1408.6 940.2C1401.8 942.1 1394.3 943.0 1388.4 942.8C1382.5 942.5 1377.4 941.5 1373.3 938.6C1369.2 935.6 1366.2 931.0 1364.1 925.1C1362.0 919.3 1361.8 911.1 1360.7 903.3C1359.6 895.5 1358.5 886.8 1357.4 878.1C1356.2 869.4 1355.1 859.7 1354.0 851.3C1352.9 842.9 1351.6 834.5 1350.6 827.8C1349.7 821.0 1349.4 816.0 1348.1 811.0C1346.9 805.9 1345.3 801.2 1343.1 797.5C1340.8 793.9 1337.8 791.1 1334.7 789.1C1331.6 787.2 1328.0 786.1 1324.6 785.8C1321.3 785.5 1317.3 786.1 1314.5 787.5C1311.7 788.9 1309.2 790.8 1307.8 794.2C1306.4 797.5 1306.4 802.6 1306.1 807.6C1305.9 812.6 1306.6 818.8 1306.1 824.4C1305.7 830.0 1305.0 835.9 1303.6 841.2C1302.2 846.5 1300.1 851.0 1297.8 856.3C1295.4 861.6 1291.9 867.5 1289.4 873.1C1286.8 878.7 1284.6 884.3 1282.6 889.9C1280.7 895.5 1279.1 900.2 1277.6 906.7C1276.1 913.1 1274.9 921.8 1273.4 928.5C1271.9 935.2 1271.0 941.9 1268.4 947.0C1265.7 952.0 1262.6 955.8 1257.5 958.7C1252.3 961.6 1245.1 963.0 1237.3 964.6C1229.5 966.1 1218.8 967.1 1210.4 967.9C1202.0 968.8 1193.4 970.3 1186.9 969.6C1180.5 968.9 1175.7 966.7 1171.8 963.7C1167.9 960.8 1165.3 956.5 1163.4 952.0C1161.6 947.5 1160.5 943.3 1160.9 936.9C1161.3 930.4 1163.6 922.1 1166.0 913.4C1168.3 904.7 1172.0 894.1 1175.2 884.8C1178.4 875.6 1181.9 866.9 1185.3 858.0C1188.6 849.0 1191.7 839.2 1195.3 831.1C1199.0 823.0 1202.6 815.4 1207.1 809.3C1211.6 803.1 1216.6 798.2 1222.2 794.2C1227.8 790.1 1234.8 787.2 1240.7 784.9C1246.5 782.7 1252.4 781.7 1257.5 780.7C1262.5 779.8 1265.0 779.6 1270.9 779.1Z" fill="#cbb3ea"/>
<path d="M1155.7 1103.5C1155.4 1097.2 1156.3 1092.1 1158.9 1086.7C1161.5 1081.2 1165.5 1075.6 1171.5 1070.9C1177.4 1066.2 1185.8 1061.8 1194.6 1058.3C1203.3 1054.8 1214.5 1051.7 1223.9 1049.9C1233.4 1048.2 1242.1 1047.3 1251.2 1047.8C1260.3 1048.4 1269.4 1050.5 1278.5 1053.1C1287.6 1055.7 1296.7 1060.6 1305.8 1063.6C1314.9 1066.6 1323.6 1069.7 1333.1 1070.9C1342.5 1072.1 1352.7 1071.8 1362.5 1070.9C1372.2 1070.0 1381.7 1067.8 1391.8 1065.7C1402.0 1063.6 1412.8 1060.8 1423.3 1058.3C1433.8 1055.9 1445.0 1052.6 1454.8 1051.0C1464.6 1049.4 1474.0 1048.2 1482.1 1048.9C1490.1 1049.6 1497.5 1051.7 1503.1 1055.2C1508.7 1058.7 1513.2 1064.6 1515.7 1069.9C1518.1 1075.1 1518.5 1080.7 1517.8 1086.7C1517.1 1092.6 1513.7 1099.3 1511.5 1105.6C1509.2 1111.8 1505.7 1118.1 1504.1 1124.4C1502.5 1130.7 1503.2 1137.4 1502.0 1143.3C1500.8 1149.3 1500.4 1155.6 1496.8 1160.1C1493.1 1164.7 1487.0 1168.2 1480.0 1170.6C1473.0 1173.1 1463.9 1174.1 1454.8 1174.8C1445.7 1175.5 1435.6 1174.3 1425.4 1174.8C1415.3 1175.3 1404.4 1176.4 1393.9 1178.0C1383.4 1179.5 1373.3 1182.2 1362.5 1184.2C1351.6 1186.3 1341.5 1189.1 1328.9 1190.5C1316.3 1192.0 1300.0 1193.0 1286.9 1192.7C1273.8 1192.4 1260.7 1191.0 1250.2 1189.0C1239.7 1187.0 1232.5 1184.6 1223.9 1180.6C1215.3 1176.6 1206.7 1170.9 1198.8 1164.9C1190.9 1159.0 1183.0 1151.7 1176.7 1144.9C1170.4 1138.1 1164.5 1130.8 1161.0 1123.9C1157.5 1117.0 1156.1 1109.7 1155.7 1103.5Z" fill="#efdfbd"/>
<path d="M1351.1 743.9L1315.3 805.9M1315.3 805.9L1279.9 811.9M1279.9 811.9L1252.8 871.5M1252.8 871.5L1235.3 930.2M1315.3 805.9L1357.4 801.8M1357.4 801.8L1366.6 853.7M1366.6 853.7L1385.9 915.6M1315.3 805.9L1291.8 927.6M1315.3 805.9L1347.8 929.2M1291.8 927.6L1285.4 1013.2M1347.8 929.2L1371.7 1020.1M1284.8 1030.0L1284.4 1095.0M1371.7 1020.1L1403.7 1104.1M1282.1 1103.4L1230.2 1107.1M1282.1 1103.4L1268.4 1143.4M1282.1 1103.4L1315.7 1134.6M1403.7 1104.1L1364.4 1120.0M1403.7 1104.1L1455.3 1084.2M1403.7 1104.1L1435.4 1136.1" stroke="#2a1a1a" stroke-width="1.5" fill="none"/>
<circle cx="1351.1" cy="743.9" r="23.1" fill="#5f1535" stroke="#0a0a0a" stroke-width="1.3"/>
<circle cx="1315.3" cy="805.9" r="3.7" fill="#00007f" stroke="#0a0a0a" stroke-width="1.3"/>
<circle cx="1279.9" cy="811.9" r="17.2" fill="#d4ff28" stroke="#0a0a0a" stroke-width="1.3"/>
<circle cx="1252.8" cy="871.5" r="8.4" fill="#0074ff" stroke="#0a0a0a" stroke-width="1.3"/>
<circle cx="1235.3" cy="930.2" r="10.1" fill="#00d8ff" stroke="#0a0a0a" stroke-width="1.3"/>
<circle cx="1357.4" cy="801.8" r="17.6" fill="#ffa400" stroke="#0a0a0a" stroke-width="1.3"/>
<circle cx="1366.6" cy="853.7" r="10.1" fill="#00d8ff" stroke="#0a0a0a" stroke-width="1.3"/>
<circle cx="1385.9" cy="915.6" r="16.3" fill="#ffe800" stroke="#0a0a0a" stroke-width="1.3"/>
<circle cx="1291.8" cy="927.6" r="23.1" fill="#5f1535" stroke="#0a0a0a" stroke-width="1.3"/>
<circle cx="1347.8" cy="929.2" r="19.3" fill="#ff5a00" stroke="#0a0a0a" stroke-width="1.3"/>
<circle cx="1285.4" cy="1013.2" r="23.0" fill="#5f1535" stroke="#0a0a0a" stroke-width="1.3"/>
<circle cx="1371.7" cy="1020.1" r="17.0" fill="#ff5a00" stroke="#0a0a0a" stroke-width="1.3"/>
<circle cx="1282.1" cy="1103.4" r="12.2" fill="#5cfaa0" stroke="#0a0a0a" stroke-width="1.3"/>
<circle cx="1403.7" cy="1104.1" r="10.2" fill="#14fce0" stroke="#0a0a0a" stroke-width="1.3"/>
<circle cx="1230.2" cy="1107.1" r="23.0" fill="#5f1535" stroke="#0a0a0a" stroke-width="1.3"/>
<circle cx="1268.4" cy="1143.4" r="23.0" fill="#5f1535" stroke="#0a0a0a" stroke-width="1.3"/>
<circle cx="1315.7" cy="1134.6" r="23.0" fill="#5f1535" stroke="#0a0a0a" stroke-width="1.3"/>
<circle cx="1364.4" cy="1120.0" r="23.0" fill="#5f1535" stroke="#0a0a0a" stroke-width="1.3"/>
<circle cx="1455.3" cy="1084.2" r="23.0" fill="#5f1535" stroke="#0a0a0a" stroke-width="1.3"/>
<circle cx="1435.4" cy="1136.1" r="23.0" fill="#5f1535" stroke="#0a0a0a" stroke-width="1.3"/>
<text x="1374.6" y="723.3" font-size="20.5">0.98</text>
<text x="1274.6" y="780.7" font-size="20.5">0.00</text>
<text x="1220.5" y="814.7" font-size="20.5">0.60</text>
<text x="1380.9" y="805.6" font-size="20.5">0.69</text>
<text x="1194.5" y="874.8" font-size="20.5">0.25</text>
<text x="1382.5" y="854.3" font-size="20.5">0.39</text>
<text x="1183.6" y="936.0" font-size="20.5">0.47</text>
<text x="1398.5" y="899.1" font-size="20.5">0.67</text>
<text x="1244.9" y="973.0" font-size="20.5">0.87</text>
<text x="1362.4" y="964.6" font-size="20.5">0.76</text>
<text x="1161.6" y="1102.4" font-size="20.5">0.95</text>
<text x="1239.7" y="1080.4" font-size="20.5">0.43</text>
<text x="1339.8" y="1091.3" font-size="20.5">0.97</text>
<text x="1395.6" y="1058.3" font-size="20.5">0.46</text>
<text x="1467.4" y="1116.0" font-size="20.5">0.97</text>
<text x="1449.5" y="1167.5" font-size="20.5">0.97</text>
<text x="1239.7" y="1185.3" font-size="20.5">0.94</text>
<text x="1309.6" y="1176.9" font-size="20.5">0.95</text>
<text x="1220.6" y="1023.0" font-size="20.5">0.91</text>
<text x="1389.6" y="1009.4" font-size="20.5">0.77</text>
<text x="1361.9" y="1215.7" font-size="28" text-anchor="middle">Score 1</text>
<path d="M1767.5 756.4C1774.5 755.8 1784.9 755.1 1792.7 755.2C1800.5 755.3 1807.5 756.4 1814.5 756.9C1821.5 757.4 1827.4 758.1 1834.7 758.1C1842.0 758.1 1850.4 757.5 1858.2 756.9C1866.0 756.3 1875.5 754.9 1881.7 754.7C1887.9 754.5 1891.5 754.3 1895.1 755.6C1898.8 756.8 1901.6 759.2 1903.5 762.3C1905.5 765.3 1905.9 768.7 1906.9 774.0C1907.9 779.3 1908.3 786.6 1909.4 794.2C1910.5 801.7 1911.9 811.0 1913.6 819.4C1915.3 827.8 1917.9 837.0 1919.5 844.5C1921.0 852.1 1922.6 858.5 1922.8 864.7C1923.1 870.8 1922.7 876.2 1921.2 881.5C1919.6 886.8 1917.1 891.8 1913.6 896.6C1910.1 901.3 1905.2 906.4 1900.2 910.0C1895.1 913.7 1889.0 916.6 1883.4 918.4C1877.8 920.2 1871.3 921.2 1866.6 920.9C1861.8 920.7 1857.9 919.4 1854.8 916.7C1851.8 914.1 1849.7 910.3 1848.1 905.0C1846.6 899.7 1846.4 892.1 1845.6 884.8C1844.8 877.6 1843.9 869.7 1843.1 861.3C1842.2 852.9 1841.5 843.1 1840.6 834.5C1839.6 825.8 1838.3 816.6 1837.2 809.3C1836.1 802.0 1835.1 796.1 1833.8 790.8C1832.6 785.5 1831.7 781.3 1829.7 777.4C1827.6 773.5 1824.3 769.7 1821.3 767.3C1818.2 764.9 1814.4 763.1 1811.2 763.1C1808.0 763.1 1804.2 764.9 1801.9 767.3C1799.7 769.7 1798.5 772.9 1797.8 777.4C1797.0 781.9 1797.7 788.3 1797.4 794.2C1797.1 800.0 1797.0 806.8 1796.1 812.6C1795.1 818.5 1793.7 824.1 1791.9 829.4C1790.1 834.7 1787.4 839.2 1785.2 844.5C1782.9 849.9 1780.3 855.5 1778.4 861.3C1776.6 867.2 1775.4 873.4 1774.2 879.8C1773.1 886.2 1772.8 893.5 1771.7 899.9C1770.6 906.4 1769.6 913.1 1767.5 918.4C1765.4 923.7 1763.3 928.2 1759.1 931.8C1754.9 935.5 1748.8 938.0 1742.3 940.2C1735.9 942.5 1727.8 944.0 1720.5 945.3C1713.2 946.5 1705.1 948.1 1698.7 947.8C1692.3 947.5 1686.4 946.3 1681.9 943.6C1677.4 940.9 1673.9 936.3 1671.8 931.8C1669.7 927.4 1669.0 922.9 1669.3 916.7C1669.6 910.6 1671.5 903.0 1673.5 894.9C1675.5 886.8 1678.4 877.0 1681.1 868.0C1683.7 859.1 1686.7 850.1 1689.5 841.2C1692.3 832.2 1694.9 822.4 1697.9 814.3C1700.8 806.2 1703.6 798.9 1707.1 792.5C1710.6 786.1 1714.4 780.3 1718.8 775.7C1723.3 771.1 1728.6 767.6 1733.9 764.8C1739.3 762.0 1745.1 760.3 1750.7 758.9C1756.3 757.5 1760.5 757.0 1767.5 756.4Z" fill="#cbb3ea"/>
<path d="M1643.6 1101.4C1643.5 1095.2 1643.8 1090.0 1646.8 1084.6C1649.8 1079.1 1655.2 1073.4 1661.5 1068.8C1667.8 1064.3 1675.8 1060.4 1684.6 1057.3C1693.3 1054.1 1704.2 1051.5 1713.9 1049.9C1723.7 1048.4 1733.9 1047.3 1743.3 1047.8C1752.8 1048.4 1761.5 1050.5 1770.6 1053.1C1779.7 1055.7 1788.8 1060.6 1797.9 1063.6C1807.0 1066.6 1815.7 1069.7 1825.2 1070.9C1834.6 1072.1 1844.8 1071.8 1854.6 1070.9C1864.3 1070.0 1873.8 1067.8 1883.9 1065.7C1894.1 1063.6 1905.3 1060.8 1915.4 1058.3C1925.6 1055.9 1936.1 1052.6 1944.8 1051.0C1953.5 1049.4 1960.9 1048.4 1967.9 1048.9C1974.9 1049.4 1981.7 1051.0 1986.8 1054.1C1991.8 1057.3 1996.0 1062.7 1998.3 1067.8C2000.6 1072.8 2000.9 1078.6 2000.4 1084.6C1999.9 1090.5 1997.3 1097.2 1995.2 1103.5C1993.1 1109.7 1989.6 1116.0 1987.8 1122.3C1986.1 1128.6 1985.9 1135.3 1984.7 1141.2C1983.4 1147.2 1983.6 1153.1 1980.5 1158.0C1977.3 1162.9 1972.4 1167.6 1965.8 1170.6C1959.1 1173.6 1949.7 1175.0 1940.6 1175.9C1931.5 1176.7 1921.4 1175.5 1911.2 1175.9C1901.1 1176.2 1889.9 1176.7 1879.7 1178.0C1869.6 1179.2 1860.5 1181.3 1850.4 1183.2C1840.2 1185.1 1829.4 1187.9 1818.9 1189.5C1808.4 1191.1 1797.9 1192.4 1787.4 1192.6C1776.9 1192.9 1765.5 1192.0 1755.9 1191.1C1746.3 1190.2 1737.6 1189.2 1729.7 1187.5C1721.8 1185.8 1715.5 1184.2 1708.7 1181.2C1701.9 1178.2 1694.9 1173.8 1688.8 1169.6C1682.7 1165.4 1677.2 1161.1 1672.0 1156.0C1666.8 1150.9 1661.3 1145.0 1657.3 1139.2C1653.3 1133.4 1650.1 1127.7 1647.8 1121.4C1645.5 1115.1 1643.8 1107.5 1643.6 1101.4Z" fill="#efdfbd"/>
<path d="M1835.4 729.2L1807.7 786.8M1807.7 786.8L1766.7 794.2M1766.7 794.2L1745.5 854.9M1745.5 854.9L1730.2 908.0M1807.7 786.8L1845.9 779.7M1845.9 779.7L1857.9 829.5M1857.9 829.5L1874.8 891.6M1807.7 786.8L1785.2 907.9M1807.7 786.8L1835.5 910.0M1785.2 907.9L1787.4 993.1M1835.5 910.0L1856.7 997.8M1787.4 993.1L1762.8 1076.7M1856.7 997.8L1875.5 1088.0M1762.8 1076.7L1712.5 1090.9M1762.8 1076.7L1748.2 1130.3M1762.8 1076.7L1797.1 1115.6M1875.5 1088.0L1846.2 1123.0M1875.5 1088.0L1937.9 1078.9M1875.5 1088.0L1907.7 1134.1" stroke="#2a1a1a" stroke-width="1.5" fill="none"/>
<circle cx="1835.4" cy="729.2" r="6.6" fill="#0018ff" stroke="#0a0a0a" stroke-width="1.3"/>
<circle cx="1807.7" cy="786.8" r="3.7" fill="#00007f" stroke="#0a0a0a" stroke-width="1.3"/>
<circle cx="1766.7" cy="794.2" r="3.7" fill="#00007f" stroke="#0a0a0a" stroke-width="1.3"/>
<circle cx="1745.5" cy="854.9" r="3.7" fill="#00007f" stroke="#0a0a0a" stroke-width="1.3"/>
<circle cx="1730.2" cy="908.0" r="10.1" fill="#00d8ff" stroke="#0a0a0a" stroke-width="1.3"/>
<circle cx="1845.9" cy="779.7" r="11.7" fill="#38fcc4" stroke="#0a0a0a" stroke-width="1.3"/>
<circle cx="1857.9" cy="829.5" r="16.6" fill="#ffd000" stroke="#0a0a0a" stroke-width="1.3"/>
<circle cx="1874.8" cy="891.6" r="23.1" fill="#5f1535" stroke="#0a0a0a" stroke-width="1.3"/>
<circle cx="1785.2" cy="907.9" r="17.1" fill="#d4ff28" stroke="#0a0a0a" stroke-width="1.3"/>
<circle cx="1835.5" cy="910.0" r="17.1" fill="#d4ff28" stroke="#0a0a0a" stroke-width="1.3"/>
<circle cx="1787.4" cy="993.1" r="19.2" fill="#ff5a00" stroke="#0a0a0a" stroke-width="1.3"/>
<circle cx="1856.7" cy="997.8" r="19.2" fill="#ff5a00" stroke="#0a0a0a" stroke-width="1.3"/>
<circle cx="1762.8" cy="1076.7" r="17.1" fill="#d4ff28" stroke="#0a0a0a" stroke-width="1.3"/>
<circle cx="1875.5" cy="1088.0" r="17.1" fill="#d4ff28" stroke="#0a0a0a" stroke-width="1.3"/>
<circle cx="1712.5" cy="1090.9" r="23.0" fill="#bc0000" stroke="#0a0a0a" stroke-width="1.3"/>
<circle cx="1748.2" cy="1130.3" r="23.0" fill="#bc0000" stroke="#0a0a0a" stroke-width="1.3"/>
<circle cx="1797.1" cy="1115.6" r="23.0" fill="#bc0000" stroke="#0a0a0a" stroke-width="1.3"/>
<circle cx="1846.2" cy="1123.0" r="23.0" fill="#5f1535" stroke="#0a0a0a" stroke-width="1.3"/>
<circle cx="1937.9" cy="1078.9" r="23.0" fill="#5f1535" stroke="#0a0a0a" stroke-width="1.3"/>
<circle cx="1907.7" cy="1134.1" r="23.0" fill="#5f1535" stroke="#0a0a0a" stroke-width="1.3"/>
<text x="1789.4" y="722.0" font-size="20.5">0.05</text>
<text x="1768.4" y="764.8" font-size="20.5">0.03</text>
<text x="1714.6" y="795.0" font-size="20.5">0.00</text>
<text x="1859.9" y="774.9" font-size="20.5">0.43</text>
<text x="1700.4" y="858.0" font-size="20.5">0.10</text>
<text x="1886.4" y="832.0" font-size="20.5">0.65</text>
<text x="1679.4" y="904.1" font-size="20.5">0.43</text>
<text x="1896.8" y="870.6" font-size="20.5">1.00</text>
<text x="1742.7" y="947.0" font-size="20.5">0.47</text>
<text x="1853.5" y="938.6" font-size="20.5">0.49</text>
<text x="1644.7" y="1098.8" font-size="20.5">0.88</text>
<text x="1719.6" y="1051.0" font-size="20.5">0.46</text>
<text x="1880.8" y="1056.2" font-size="20.5">0.58</text>
<text x="1706.6" y="1174.4" font-size="20.5">0.87</text>
<text x="1775.4" y="1160.1" font-size="20.5">0.87</text>
<text x="1836.7" y="1168.9" font-size="20.5">1.00</text>
<text x="1949.0" y="1118.1" font-size="20.5">1.00</text>
<text x="1929.1" y="1170.2" font-size="20.5">1.00</text>
<text x="1720.4" y="994.3" font-size="20.5">0.72</text>
<text x="1885.6" y="993.0" font-size="20.5">0.85</text>
<text x="1846.0" y="1215.7" font-size="28" text-anchor="middle">Score 2</text>
</g>
<g id="panel-c">
<rect x="151.4" y="1377.2" width="516.9" height="606.0999999999999" fill="#fff" stroke="#d0d0d0" stroke-width="1.5"/>
<path d="M151.4 1422.1H668.3M151.4 1490.3H668.3M151.4 1558.4H668.3M151.4 1626.6H668.3M151.4 1694.8H668.3M151.4 1762.9H668.3M151.4 1831.1H668.3M151.4 1899.3H668.3M151.4 1967.5H668.3" stroke="#d0d0d0" stroke-width="1.5" fill="none"/>
<text x="129.7" y="1429.7" font-size="28" text-anchor="end">0.250</text>
<text x="129.7" y="1497.9" font-size="28" text-anchor="end">0.225</text>
<text x="129.7" y="1566.0" font-size="28" text-anchor="end">0.200</text>
<text x="129.7" y="1634.2" font-size="28" text-anchor="end">0.175</text>
<text x="129.7" y="1702.4" font-size="28" text-anchor="end">0.150</text>
<text x="129.7" y="1770.5" font-size="28" text-anchor="end">0.125</text>
<text x="129.7" y="1838.7" font-size="28" text-anchor="end">0.100</text>
<text x="129.7" y="1906.9" font-size="28" text-anchor="end">0.075</text>
<text x="129.7" y="1975.1" font-size="28" text-anchor="end">0.050</text>
<text transform="translate(38,1695) rotate(-90)" font-size="28.5" text-anchor="middle">Arm swing amplitude (m)</text>
<text x="252.9" y="2075.4" font-size="28" text-anchor="middle">Score 0</text>
<text x="432.2" y="2075.4" font-size="28" text-anchor="middle">Score 1</text>
<text x="612.8" y="2075.4" font-size="28" text-anchor="middle">Score 2</text>
<text x="6.3" y="1291.5" font-size="52.5" font-weight="bold">c</text>
<text x="262.6" y="2017.6" font-size="33" font-style="italic">ρ</text>
<text x="289.4" y="2017.6" font-size="27.3" textLength="86" lengthAdjust="spacingAndGlyphs">= -0.64</text>
<text x="378.1" y="2017.6" font-size="30" font-weight="bold" font-style="italic">,</text>
<text x="405.8" y="2017.6" font-size="27.3" textLength="107" lengthAdjust="spacingAndGlyphs">p = 6x10</text>
<text x="513.6" y="2009.4" font-size="16.5">-15</text>
<path d="M206.3 1405.4L200.1 1405.4C199.9 1408.0 199.6 1415.2 198.9 1421.2C198.3 1427.3 197.5 1434.3 196.4 1441.7C195.2 1449.1 193.5 1457.7 192.1 1465.7C190.7 1473.6 189.1 1481.6 187.8 1489.6C186.6 1497.5 185.8 1506.1 184.8 1513.5C183.8 1520.9 183.0 1526.6 181.9 1534.0C180.7 1541.4 179.5 1550.5 177.9 1557.9C176.4 1565.3 174.5 1571.6 172.5 1578.4C170.4 1585.2 167.7 1592.6 165.6 1598.9C163.6 1605.2 161.5 1609.7 160.2 1616.0C158.8 1622.2 157.7 1629.7 157.6 1636.5C157.5 1643.3 158.6 1650.2 159.6 1657.0C160.7 1663.8 162.5 1671.2 163.9 1677.5C165.3 1683.7 166.9 1687.0 168.2 1694.6C169.5 1702.1 170.6 1713.7 171.6 1722.7C172.6 1731.7 173.2 1739.8 174.2 1748.3C175.2 1756.9 176.2 1765.4 177.6 1774.0C179.0 1782.5 180.9 1791.8 182.7 1799.6C184.6 1807.3 187.7 1816.9 188.7 1820.4L206.3 1820.4Z" fill="#9bbce3" stroke="#6e6e6e" stroke-width="1.2" stroke-linejoin="miter"/>
<path d="M389.4 1484.5L379.7 1484.5C379.4 1488.2 378.3 1498.7 377.8 1506.7C377.3 1514.6 376.9 1523.7 376.6 1532.3C376.3 1540.8 376.4 1549.4 376.1 1557.9C375.7 1566.4 375.1 1575.0 374.4 1583.5C373.6 1592.1 372.7 1600.9 371.5 1609.2C370.3 1617.4 369.0 1625.1 367.2 1633.1C365.3 1641.0 362.9 1649.6 360.4 1657.0C357.8 1664.4 354.5 1670.2 351.8 1677.5C349.1 1684.7 346.1 1693.0 344.1 1700.5C342.1 1708.0 340.7 1715.3 339.9 1722.7C339.0 1730.1 338.9 1737.2 339.0 1744.9C339.2 1752.6 339.7 1760.9 340.7 1768.8C341.7 1776.8 343.1 1784.8 345.0 1792.7C346.8 1800.7 349.3 1808.4 351.8 1816.7C354.4 1824.9 357.5 1833.7 360.4 1842.3C363.2 1850.8 366.2 1859.4 368.9 1867.9C371.6 1876.4 374.5 1885.0 376.6 1893.5C378.7 1902.1 380.4 1911.2 381.7 1919.2C383.0 1927.1 383.7 1933.5 384.3 1941.4C384.9 1949.2 385.3 1962.0 385.5 1966.1L389.4 1966.1Z" fill="#e0aaaa" stroke="#6e6e6e" stroke-width="1.2" stroke-linejoin="miter"/>
<path d="M572.5 1461.7L568.6 1461.7C568.7 1466.4 569.1 1479.2 569.5 1489.6C569.8 1499.9 570.5 1512.4 570.8 1523.7C571.1 1535.1 571.3 1546.5 571.3 1557.9C571.4 1569.3 571.4 1580.7 571.3 1592.1C571.3 1603.5 571.3 1616.3 570.8 1626.2C570.3 1636.2 569.4 1643.3 568.3 1651.9C567.1 1660.4 565.3 1669.9 564.0 1677.5C562.7 1685.0 562.3 1690.4 560.6 1697.1C558.9 1703.8 556.3 1711.0 553.7 1717.6C551.2 1724.1 548.0 1730.4 545.2 1736.4C542.4 1742.4 539.4 1747.8 536.7 1753.5C534.0 1759.1 531.0 1764.8 529.0 1770.5C527.0 1776.2 525.6 1781.6 524.7 1787.6C523.8 1793.6 523.6 1800.1 523.3 1806.4C523.0 1812.7 523.3 1818.9 523.0 1825.2C522.7 1831.5 522.0 1837.4 521.3 1844.0C520.6 1850.5 519.4 1857.7 518.7 1864.5C518.0 1871.3 517.0 1878.2 517.0 1885.0C517.0 1891.8 517.4 1898.7 518.7 1905.5C520.0 1912.3 522.0 1919.2 524.7 1926.0C527.4 1932.8 531.8 1940.5 535.0 1946.5C538.1 1952.5 541.3 1958.0 543.5 1961.9C545.7 1965.7 547.2 1968.3 547.9 1969.5L572.5 1969.5Z" fill="#d6d0b5" stroke="#6e6e6e" stroke-width="1.2" stroke-linejoin="miter"/>
<rect x="233.2" y="1589.2" width="19.0" height="136.1" fill="#fff" stroke="#707070" stroke-width="1.2"/>
<path d="M242.7 1589.2V1405.4M237.7 1405.4H247.7M242.7 1725.3V1820.4M237.7 1820.4H247.7M233.2 1642.1H252.2" stroke="#707070" stroke-width="1.2" fill="none"/>
<rect x="416.2" y="1687.3" width="19.2" height="110.9" fill="#fff" stroke="#707070" stroke-width="1.2"/>
<path d="M425.8 1687.3V1562.5M420.8 1562.5H430.8M425.8 1798.2V1882.1M420.8 1882.1H430.8M416.2 1725.5H435.4" stroke="#707070" stroke-width="1.2" fill="none"/>
<rect x="599.3" y="1784.2" width="19.0" height="123.0" fill="#fff" stroke="#707070" stroke-width="1.2"/>
<path d="M608.8 1784.2V1707.8M603.8 1707.8H613.8M608.8 1907.2V1969.5M603.8 1969.5H613.8M599.3 1857.1H618.3" stroke="#707070" stroke-width="1.2" fill="none"/>
<path d="M425.6 1476.9L431.0 1484.5L425.6 1492.1L420.2 1484.5Z" fill="#747474"/>
<path d="M425.6 1492.2L431.0 1499.8L425.6 1507.4L420.2 1499.8Z" fill="#747474"/>
<path d="M425.6 1958.5L431.0 1966.1L425.6 1973.7L420.2 1966.1Z" fill="#747474"/>
<path d="M608.4 1454.1L613.8 1461.7L608.4 1469.3L603.0 1461.7Z" fill="#747474"/>
<g fill="#8cb9ec"><ellipse cx="286.1" cy="1407.6" rx="3.6" ry="3.1"/><ellipse cx="272.6" cy="1454.0" rx="3.6" ry="3.1"/><ellipse cx="277.2" cy="1500.7" rx="3.6" ry="3.1"/><ellipse cx="281.8" cy="1502.9" rx="3.6" ry="3.1"/><ellipse cx="267.1" cy="1507.7" rx="3.6" ry="3.1"/><ellipse cx="275.0" cy="1507.2" rx="3.6" ry="3.1"/><ellipse cx="283.8" cy="1548.5" rx="3.6" ry="3.1"/><ellipse cx="291.3" cy="1549.0" rx="3.6" ry="3.1"/><ellipse cx="272.2" cy="1571.6" rx="3.6" ry="3.1"/><ellipse cx="275.3" cy="1582.2" rx="3.6" ry="3.1"/><ellipse cx="263.7" cy="1612.2" rx="3.6" ry="3.1"/><ellipse cx="283.1" cy="1611.9" rx="3.6" ry="3.1"/><ellipse cx="280.8" cy="1613.6" rx="3.6" ry="3.1"/><ellipse cx="294.9" cy="1619.6" rx="3.6" ry="3.1"/><ellipse cx="287.1" cy="1621.1" rx="3.6" ry="3.1"/><ellipse cx="282.8" cy="1626.2" rx="3.6" ry="3.1"/><ellipse cx="261.8" cy="1629.3" rx="3.6" ry="3.1"/><ellipse cx="284.7" cy="1634.8" rx="3.6" ry="3.1"/><ellipse cx="296.0" cy="1639.9" rx="3.6" ry="3.1"/><ellipse cx="280.6" cy="1645.4" rx="3.6" ry="3.1"/><ellipse cx="267.1" cy="1655.4" rx="3.6" ry="3.1"/><ellipse cx="293.7" cy="1653.1" rx="3.6" ry="3.1"/><ellipse cx="265.2" cy="1669.6" rx="3.6" ry="3.1"/><ellipse cx="283.5" cy="1669.8" rx="3.6" ry="3.1"/><ellipse cx="263.2" cy="1684.7" rx="3.6" ry="3.1"/><ellipse cx="263.2" cy="1684.8" rx="3.6" ry="3.1"/><ellipse cx="292.5" cy="1715.0" rx="3.6" ry="3.1"/><ellipse cx="291.0" cy="1718.4" rx="3.6" ry="3.1"/><ellipse cx="294.4" cy="1724.1" rx="3.6" ry="3.1"/><ellipse cx="271.7" cy="1725.3" rx="3.6" ry="3.1"/><ellipse cx="275.1" cy="1726.5" rx="3.6" ry="3.1"/><ellipse cx="286.9" cy="1729.2" rx="3.6" ry="3.1"/><ellipse cx="261.1" cy="1770.2" rx="3.6" ry="3.1"/><ellipse cx="261.6" cy="1775.7" rx="3.6" ry="3.1"/><ellipse cx="263.8" cy="1777.0" rx="3.6" ry="3.1"/><ellipse cx="265.2" cy="1779.1" rx="3.6" ry="3.1"/><ellipse cx="285.9" cy="1796.5" rx="3.6" ry="3.1"/><ellipse cx="283.7" cy="1813.8" rx="3.6" ry="3.1"/><ellipse cx="272.6" cy="1820.6" rx="3.6" ry="3.1"/></g>
<g fill="#e89b9f"><ellipse cx="469.4" cy="1484.5" rx="3.6" ry="3.1"/><ellipse cx="456.4" cy="1498.6" rx="3.6" ry="3.1"/><ellipse cx="459.4" cy="1499.8" rx="3.6" ry="3.1"/><ellipse cx="444.1" cy="1562.3" rx="3.6" ry="3.1"/><ellipse cx="449.5" cy="1577.4" rx="3.6" ry="3.1"/><ellipse cx="472.6" cy="1603.2" rx="3.6" ry="3.1"/><ellipse cx="472.9" cy="1617.2" rx="3.6" ry="3.1"/><ellipse cx="463.4" cy="1621.8" rx="3.6" ry="3.1"/><ellipse cx="476.4" cy="1676.8" rx="3.6" ry="3.1"/><ellipse cx="473.8" cy="1687.2" rx="3.6" ry="3.1"/><ellipse cx="450.6" cy="1688.1" rx="3.6" ry="3.1"/><ellipse cx="467.8" cy="1689.6" rx="3.6" ry="3.1"/><ellipse cx="450.6" cy="1688.0" rx="3.6" ry="3.1"/><ellipse cx="467.8" cy="1689.4" rx="3.6" ry="3.1"/><ellipse cx="473.8" cy="1687.2" rx="3.6" ry="3.1"/><ellipse cx="445.4" cy="1698.3" rx="3.6" ry="3.1"/><ellipse cx="461.8" cy="1698.8" rx="3.6" ry="3.1"/><ellipse cx="469.5" cy="1696.9" rx="3.6" ry="3.1"/><ellipse cx="469.5" cy="1710.4" rx="3.6" ry="3.1"/><ellipse cx="446.5" cy="1718.1" rx="3.6" ry="3.1"/><ellipse cx="444.8" cy="1725.8" rx="3.6" ry="3.1"/><ellipse cx="453.3" cy="1723.6" rx="3.6" ry="3.1"/><ellipse cx="457.2" cy="1725.3" rx="3.6" ry="3.1"/><ellipse cx="444.6" cy="1730.7" rx="3.6" ry="3.1"/><ellipse cx="466.6" cy="1759.6" rx="3.6" ry="3.1"/><ellipse cx="469.2" cy="1758.2" rx="3.6" ry="3.1"/><ellipse cx="471.7" cy="1760.3" rx="3.6" ry="3.1"/><ellipse cx="474.3" cy="1768.5" rx="3.6" ry="3.1"/><ellipse cx="446.3" cy="1775.8" rx="3.6" ry="3.1"/><ellipse cx="453.3" cy="1784.7" rx="3.6" ry="3.1"/><ellipse cx="462.2" cy="1789.2" rx="3.6" ry="3.1"/><ellipse cx="456.4" cy="1792.7" rx="3.6" ry="3.1"/><ellipse cx="447.3" cy="1804.4" rx="3.6" ry="3.1"/><ellipse cx="456.2" cy="1804.9" rx="3.6" ry="3.1"/><ellipse cx="450.7" cy="1812.9" rx="3.6" ry="3.1"/><ellipse cx="461.8" cy="1814.8" rx="3.6" ry="3.1"/><ellipse cx="472.4" cy="1824.3" rx="3.6" ry="3.1"/><ellipse cx="449.5" cy="1832.2" rx="3.6" ry="3.1"/><ellipse cx="450.6" cy="1863.3" rx="3.6" ry="3.1"/><ellipse cx="451.4" cy="1870.3" rx="3.6" ry="3.1"/><ellipse cx="471.9" cy="1882.3" rx="3.6" ry="3.1"/><ellipse cx="446.1" cy="1966.1" rx="3.6" ry="3.1"/></g>
<g fill="#e0d9b0"><ellipse cx="643.3" cy="1461.9" rx="3.6" ry="3.1"/><ellipse cx="627.2" cy="1707.7" rx="3.6" ry="3.1"/><ellipse cx="628.6" cy="1710.2" rx="3.6" ry="3.1"/><ellipse cx="656.6" cy="1717.6" rx="3.6" ry="3.1"/><ellipse cx="641.2" cy="1765.9" rx="3.6" ry="3.1"/><ellipse cx="651.5" cy="1766.8" rx="3.6" ry="3.1"/><ellipse cx="651.5" cy="1772.2" rx="3.6" ry="3.1"/><ellipse cx="657.1" cy="1771.2" rx="3.6" ry="3.1"/><ellipse cx="629.4" cy="1782.2" rx="3.6" ry="3.1"/><ellipse cx="648.7" cy="1782.7" rx="3.6" ry="3.1"/><ellipse cx="646.0" cy="1785.6" rx="3.6" ry="3.1"/><ellipse cx="655.7" cy="1784.2" rx="3.6" ry="3.1"/><ellipse cx="636.2" cy="1790.5" rx="3.6" ry="3.1"/><ellipse cx="628.2" cy="1796.7" rx="3.6" ry="3.1"/><ellipse cx="644.4" cy="1800.4" rx="3.6" ry="3.1"/><ellipse cx="632.5" cy="1805.9" rx="3.6" ry="3.1"/><ellipse cx="631.8" cy="1821.4" rx="3.6" ry="3.1"/><ellipse cx="657.1" cy="1833.6" rx="3.6" ry="3.1"/><ellipse cx="637.4" cy="1846.7" rx="3.6" ry="3.1"/><ellipse cx="649.7" cy="1854.4" rx="3.6" ry="3.1"/><ellipse cx="641.4" cy="1857.1" rx="3.6" ry="3.1"/><ellipse cx="661.4" cy="1857.7" rx="3.6" ry="3.1"/><ellipse cx="650.4" cy="1860.6" rx="3.6" ry="3.1"/><ellipse cx="627.7" cy="1863.1" rx="3.6" ry="3.1"/><ellipse cx="650.4" cy="1867.6" rx="3.6" ry="3.1"/><ellipse cx="653.3" cy="1877.6" rx="3.6" ry="3.1"/><ellipse cx="658.8" cy="1881.9" rx="3.6" ry="3.1"/><ellipse cx="630.6" cy="1888.6" rx="3.6" ry="3.1"/><ellipse cx="634.9" cy="1895.7" rx="3.6" ry="3.1"/><ellipse cx="650.1" cy="1905.8" rx="3.6" ry="3.1"/><ellipse cx="632.8" cy="1907.4" rx="3.6" ry="3.1"/><ellipse cx="641.4" cy="1912.7" rx="3.6" ry="3.1"/><ellipse cx="629.4" cy="1916.9" rx="3.6" ry="3.1"/><ellipse cx="660.5" cy="1918.5" rx="3.6" ry="3.1"/><ellipse cx="647.2" cy="1923.3" rx="3.6" ry="3.1"/><ellipse cx="628.9" cy="1936.2" rx="3.6" ry="3.1"/><ellipse cx="627.2" cy="1938.8" rx="3.6" ry="3.1"/><ellipse cx="655.4" cy="1941.0" rx="3.6" ry="3.1"/><ellipse cx="628.4" cy="1951.1" rx="3.6" ry="3.1"/><ellipse cx="627.5" cy="1969.5" rx="3.6" ry="3.1"/></g>
<path d="M242.5 1310.1V1301.6H396.4V1310.1" stroke="#2b2b2b" stroke-width="1.5" fill="none"/>
<text x="263.2" y="1291.9" font-size="28.0">** p=4x10<tspan font-size="16.8" dy="-9">-3</tspan></text>
<path d="M242.5 1364.8V1354.8H564.1V1364.8" stroke="#2b2b2b" stroke-width="1.5" fill="none"/>
<text x="305.7" y="1347.7" font-size="28.0">*** p=2x10<tspan font-size="16.8" dy="-9">-10</tspan></text>
<path d="M395.8 1412.1V1402.1H564.1V1412.1" stroke="#2b2b2b" stroke-width="1.5" fill="none"/>
<text x="395.8" y="1391.6" font-size="28.0">*** p=2x10<tspan font-size="16.8" dy="-9">-6</tspan></text>
<rect x="141.0" y="1259.6" width="538.6" height="777.0" fill="none" stroke="#222" stroke-width="1.6"/>
</g>
<g id="panel-d">
<rect x="831.4" y="1377.2" width="517.1" height="606.0999999999999" fill="#fff" stroke="#d0d0d0" stroke-width="1.5"/>
<path d="M831.4 1400.2H1348.5M831.4 1469.8H1348.5M831.4 1539.3H1348.5M831.4 1608.9H1348.5M831.4 1678.4H1348.5M831.4 1748.0H1348.5M831.4 1817.6H1348.5M831.4 1887.1H1348.5M831.4 1956.7H1348.5" stroke="#d0d0d0" stroke-width="1.5" fill="none"/>
<text x="813.7" y="1407.8" font-size="28" text-anchor="end">0.40</text>
<text x="813.7" y="1477.4" font-size="28" text-anchor="end">0.36</text>
<text x="813.7" y="1546.9" font-size="28" text-anchor="end">0.32</text>
<text x="813.7" y="1616.5" font-size="28" text-anchor="end">0.28</text>
<text x="813.7" y="1686.0" font-size="28" text-anchor="end">0.24</text>
<text x="813.7" y="1755.6" font-size="28" text-anchor="end">0.20</text>
<text x="813.7" y="1825.2" font-size="28" text-anchor="end">0.16</text>
<text x="813.7" y="1894.7" font-size="28" text-anchor="end">0.12</text>
<text transform="translate(731,1670.5) rotate(-90)" font-size="28.5" text-anchor="middle">Gait speed (m/s)</text>
<text x="938.1" y="2075.4" font-size="28" text-anchor="middle">Score 0</text>
<text x="1117.8" y="2075.4" font-size="28" text-anchor="middle">Score 1</text>
<text x="1298.3" y="2075.4" font-size="28" text-anchor="middle">Score 2</text>
<text x="710.5" y="1291.5" font-size="52.5" font-weight="bold">d</text>
<text x="993.0" y="2017.6" font-size="33" font-style="italic">ρ</text>
<text x="1019.8" y="2017.6" font-size="27.3" textLength="86" lengthAdjust="spacingAndGlyphs">= -0.62</text>
<text x="1108.5" y="2017.6" font-size="30" font-weight="bold" font-style="italic">,</text>
<text x="1136.9" y="2017.6" font-size="27.3" textLength="107" lengthAdjust="spacingAndGlyphs">p = 1x10</text>
<text x="1244.7" y="2009.4" font-size="16.5">-13</text>
<path d="M886.3 1407.6L851.9 1407.6C850.9 1409.6 847.4 1415.3 845.6 1419.5C843.9 1423.8 842.3 1428.4 841.4 1433.2C840.4 1438.0 840.1 1443.2 840.0 1448.6C839.8 1454.0 840.6 1460.0 840.5 1465.7C840.4 1471.4 840.2 1477.0 839.6 1482.7C839.1 1488.4 837.9 1494.1 837.1 1499.8C836.3 1505.5 835.3 1511.2 835.0 1516.9C834.8 1522.6 834.9 1528.3 835.7 1534.0C836.5 1539.7 838.1 1545.4 839.6 1551.1C841.2 1556.8 843.9 1562.7 845.3 1568.2C846.7 1573.6 847.9 1578.4 848.2 1583.5C848.5 1588.7 847.6 1593.8 847.0 1598.9C846.3 1604.0 844.9 1609.4 844.3 1614.3C843.7 1619.1 843.2 1623.4 843.4 1627.9C843.6 1632.5 844.3 1637.1 845.6 1641.6C847.0 1646.2 849.2 1650.7 851.6 1655.3C854.0 1659.8 857.2 1664.0 860.1 1668.9C863.1 1673.9 868.0 1682.5 869.5 1685.2L886.3 1685.2Z" fill="#9bbce3" stroke="#6e6e6e" stroke-width="1.2" stroke-linejoin="miter"/>
<path d="M1069.4 1405.5L1054.4 1405.5C1053.9 1408.2 1052.5 1415.8 1051.5 1421.2C1050.4 1426.7 1049.3 1432.6 1048.0 1438.3C1046.8 1444.0 1045.5 1449.7 1043.8 1455.4C1042.1 1461.1 1039.9 1466.8 1037.8 1472.5C1035.7 1478.2 1033.2 1483.9 1031.0 1489.6C1028.7 1495.3 1026.1 1501.0 1024.1 1506.7C1022.1 1512.4 1020.4 1518.0 1019.0 1523.7C1017.6 1529.4 1016.4 1535.1 1015.6 1540.8C1014.8 1546.5 1014.4 1552.2 1014.2 1557.9C1014.1 1563.6 1014.4 1569.3 1014.7 1575.0C1015.1 1580.7 1015.7 1586.4 1016.4 1592.1C1017.2 1597.8 1018.0 1603.5 1019.0 1609.2C1020.0 1614.8 1021.0 1620.5 1022.4 1626.2C1023.8 1631.9 1025.6 1637.6 1027.6 1643.3C1029.5 1649.0 1032.0 1654.7 1034.4 1660.4C1036.8 1666.1 1039.7 1671.9 1042.1 1677.5C1044.5 1683.0 1046.5 1687.6 1048.9 1693.7C1051.3 1699.8 1054.3 1706.8 1056.6 1714.2C1058.9 1721.6 1061.0 1730.1 1062.6 1738.1C1064.1 1746.1 1065.1 1754.0 1066.0 1762.0C1066.8 1770.0 1067.3 1776.8 1067.7 1785.9C1068.1 1795.0 1068.3 1805.8 1068.5 1816.7C1068.7 1827.5 1068.9 1839.4 1068.9 1850.8C1068.9 1862.2 1068.8 1873.6 1068.5 1885.0C1068.3 1896.4 1067.8 1909.2 1067.4 1919.2C1066.9 1929.1 1066.3 1936.4 1066.0 1944.8C1065.7 1953.2 1065.6 1965.4 1065.5 1969.5L1069.4 1969.5Z" fill="#e0aaaa" stroke="#6e6e6e" stroke-width="1.2" stroke-linejoin="miter"/>
<path d="M1252.5 1475.4L1244.0 1475.4C1243.7 1478.3 1242.9 1486.9 1242.3 1493.0C1241.7 1499.1 1241.1 1505.5 1240.6 1511.8C1240.0 1518.0 1239.4 1524.6 1238.9 1530.6C1238.3 1536.6 1237.8 1542.0 1237.2 1547.7C1236.5 1553.4 1235.8 1559.0 1235.1 1564.7C1234.4 1570.4 1233.7 1576.1 1232.9 1581.8C1232.0 1587.5 1231.1 1593.2 1230.0 1598.9C1228.8 1604.6 1227.5 1610.3 1226.1 1616.0C1224.6 1621.7 1223.0 1627.4 1221.4 1633.1C1219.9 1638.8 1218.3 1644.5 1216.7 1650.2C1215.1 1655.8 1213.2 1661.8 1211.9 1667.2C1210.5 1672.6 1209.5 1677.6 1208.5 1682.6C1207.4 1687.6 1206.4 1691.3 1205.6 1697.1C1204.7 1702.9 1203.6 1710.7 1203.3 1717.6C1203.1 1724.4 1203.5 1731.2 1204.2 1738.1C1204.8 1744.9 1205.9 1751.7 1207.3 1758.6C1208.6 1765.4 1210.7 1772.2 1212.4 1779.1C1214.1 1785.9 1215.9 1792.7 1217.5 1799.6C1219.1 1806.4 1220.5 1813.2 1221.8 1820.1C1223.1 1826.9 1224.1 1833.7 1225.2 1840.6C1226.3 1847.4 1227.5 1854.5 1228.6 1861.1C1229.8 1867.6 1230.8 1873.8 1232.0 1879.9C1233.2 1885.9 1235.2 1894.4 1235.8 1897.3L1252.5 1897.3Z" fill="#d6d0b5" stroke="#6e6e6e" stroke-width="1.2" stroke-linejoin="miter"/>
<rect x="913.2" y="1452.5" width="19.0" height="164.7" fill="#fff" stroke="#707070" stroke-width="1.2"/>
<path d="M922.7 1452.5V1407.6M917.7 1407.6H927.7M922.7 1617.2V1685.2M917.7 1685.2H927.7M913.2 1524.6H932.2" stroke="#707070" stroke-width="1.2" fill="none"/>
<rect x="1096.4" y="1520.3" width="19.0" height="109.7" fill="#fff" stroke="#707070" stroke-width="1.2"/>
<path d="M1105.9 1520.3V1405.5M1100.9 1405.5H1110.9M1105.9 1630.0V1717.6M1100.9 1717.6H1110.9M1096.4 1561.3H1115.4" stroke="#707070" stroke-width="1.2" fill="none"/>
<rect x="1279.3" y="1649.0" width="18.8" height="128.7" fill="#fff" stroke="#707070" stroke-width="1.2"/>
<path d="M1288.7 1649.0V1475.6M1283.7 1475.6H1293.7M1288.7 1777.7V1897.5M1283.7 1897.5H1293.7M1279.3 1722.4H1298.1" stroke="#707070" stroke-width="1.2" fill="none"/>
<path d="M1105.6 1961.9L1111.0 1969.5L1105.6 1977.1L1100.2 1969.5Z" fill="#747474"/>
<g fill="#8cb9ec"><ellipse cx="964.7" cy="1407.8" rx="3.6" ry="3.1"/><ellipse cx="960.6" cy="1410.1" rx="3.6" ry="3.1"/><ellipse cx="946.6" cy="1414.9" rx="3.6" ry="3.1"/><ellipse cx="959.1" cy="1414.1" rx="3.6" ry="3.1"/><ellipse cx="965.7" cy="1422.6" rx="3.6" ry="3.1"/><ellipse cx="977.3" cy="1435.1" rx="3.6" ry="3.1"/><ellipse cx="965.7" cy="1440.0" rx="3.6" ry="3.1"/><ellipse cx="959.6" cy="1444.0" rx="3.6" ry="3.1"/><ellipse cx="956.5" cy="1448.1" rx="3.6" ry="3.1"/><ellipse cx="966.6" cy="1452.2" rx="3.6" ry="3.1"/><ellipse cx="963.7" cy="1454.6" rx="3.6" ry="3.1"/><ellipse cx="960.4" cy="1478.5" rx="3.6" ry="3.1"/><ellipse cx="945.0" cy="1482.1" rx="3.6" ry="3.1"/><ellipse cx="964.7" cy="1495.7" rx="3.6" ry="3.1"/><ellipse cx="946.8" cy="1497.9" rx="3.6" ry="3.1"/><ellipse cx="952.2" cy="1514.2" rx="3.6" ry="3.1"/><ellipse cx="960.4" cy="1519.1" rx="3.6" ry="3.1"/><ellipse cx="976.3" cy="1521.3" rx="3.6" ry="3.1"/><ellipse cx="945.4" cy="1522.2" rx="3.6" ry="3.1"/><ellipse cx="952.6" cy="1526.6" rx="3.6" ry="3.1"/><ellipse cx="943.0" cy="1534.3" rx="3.6" ry="3.1"/><ellipse cx="941.6" cy="1536.0" rx="3.6" ry="3.1"/><ellipse cx="948.5" cy="1535.7" rx="3.6" ry="3.1"/><ellipse cx="954.4" cy="1553.8" rx="3.6" ry="3.1"/><ellipse cx="974.8" cy="1552.8" rx="3.6" ry="3.1"/><ellipse cx="967.4" cy="1571.9" rx="3.6" ry="3.1"/><ellipse cx="957.5" cy="1583.5" rx="3.6" ry="3.1"/><ellipse cx="959.4" cy="1603.3" rx="3.6" ry="3.1"/><ellipse cx="943.7" cy="1623.2" rx="3.6" ry="3.1"/><ellipse cx="955.5" cy="1622.0" rx="3.6" ry="3.1"/><ellipse cx="961.1" cy="1626.2" rx="3.6" ry="3.1"/><ellipse cx="966.6" cy="1631.4" rx="3.6" ry="3.1"/><ellipse cx="976.1" cy="1630.2" rx="3.6" ry="3.1"/><ellipse cx="973.6" cy="1636.7" rx="3.6" ry="3.1"/><ellipse cx="958.4" cy="1638.2" rx="3.6" ry="3.1"/><ellipse cx="957.0" cy="1642.0" rx="3.6" ry="3.1"/><ellipse cx="962.0" cy="1659.5" rx="3.6" ry="3.1"/><ellipse cx="972.7" cy="1685.2" rx="3.6" ry="3.1"/></g>
<g fill="#e89b9f"><ellipse cx="1136.9" cy="1405.5" rx="3.6" ry="3.1"/><ellipse cx="1134.8" cy="1418.2" rx="3.6" ry="3.1"/><ellipse cx="1155.8" cy="1419.2" rx="3.6" ry="3.1"/><ellipse cx="1157.4" cy="1431.5" rx="3.6" ry="3.1"/><ellipse cx="1142.9" cy="1466.7" rx="3.6" ry="3.1"/><ellipse cx="1144.9" cy="1485.0" rx="3.6" ry="3.1"/><ellipse cx="1137.2" cy="1491.8" rx="3.6" ry="3.1"/><ellipse cx="1158.2" cy="1490.8" rx="3.6" ry="3.1"/><ellipse cx="1142.2" cy="1517.1" rx="3.6" ry="3.1"/><ellipse cx="1132.8" cy="1519.5" rx="3.6" ry="3.1"/><ellipse cx="1133.5" cy="1521.3" rx="3.6" ry="3.1"/><ellipse cx="1149.2" cy="1523.7" rx="3.6" ry="3.1"/><ellipse cx="1135.3" cy="1526.6" rx="3.6" ry="3.1"/><ellipse cx="1140.5" cy="1535.5" rx="3.6" ry="3.1"/><ellipse cx="1145.4" cy="1544.4" rx="3.6" ry="3.1"/><ellipse cx="1136.9" cy="1547.0" rx="3.6" ry="3.1"/><ellipse cx="1135.0" cy="1551.1" rx="3.6" ry="3.1"/><ellipse cx="1147.5" cy="1550.7" rx="3.6" ry="3.1"/><ellipse cx="1132.3" cy="1555.7" rx="3.6" ry="3.1"/><ellipse cx="1154.8" cy="1561.5" rx="3.6" ry="3.1"/><ellipse cx="1142.5" cy="1564.4" rx="3.6" ry="3.1"/><ellipse cx="1132.4" cy="1582.8" rx="3.6" ry="3.1"/><ellipse cx="1150.2" cy="1592.6" rx="3.6" ry="3.1"/><ellipse cx="1158.6" cy="1594.3" rx="3.6" ry="3.1"/><ellipse cx="1156.2" cy="1599.8" rx="3.6" ry="3.1"/><ellipse cx="1158.2" cy="1605.2" rx="3.6" ry="3.1"/><ellipse cx="1138.9" cy="1625.0" rx="3.6" ry="3.1"/><ellipse cx="1147.5" cy="1625.4" rx="3.6" ry="3.1"/><ellipse cx="1158.7" cy="1629.8" rx="3.6" ry="3.1"/><ellipse cx="1146.8" cy="1630.7" rx="3.6" ry="3.1"/><ellipse cx="1153.8" cy="1632.2" rx="3.6" ry="3.1"/><ellipse cx="1154.5" cy="1636.0" rx="3.6" ry="3.1"/><ellipse cx="1149.2" cy="1639.2" rx="3.6" ry="3.1"/><ellipse cx="1154.8" cy="1639.9" rx="3.6" ry="3.1"/><ellipse cx="1141.8" cy="1672.4" rx="3.6" ry="3.1"/><ellipse cx="1148.8" cy="1673.4" rx="3.6" ry="3.1"/><ellipse cx="1139.4" cy="1682.8" rx="3.6" ry="3.1"/><ellipse cx="1152.9" cy="1717.8" rx="3.6" ry="3.1"/><ellipse cx="1155.3" cy="1969.5" rx="3.6" ry="3.1"/></g>
<g fill="#e0d9b0"><ellipse cx="1311.5" cy="1475.4" rx="3.6" ry="3.1"/><ellipse cx="1310.1" cy="1480.5" rx="3.6" ry="3.1"/><ellipse cx="1315.9" cy="1540.0" rx="3.6" ry="3.1"/><ellipse cx="1327.5" cy="1553.3" rx="3.6" ry="3.1"/><ellipse cx="1321.4" cy="1561.5" rx="3.6" ry="3.1"/><ellipse cx="1316.2" cy="1563.5" rx="3.6" ry="3.1"/><ellipse cx="1338.8" cy="1620.6" rx="3.6" ry="3.1"/><ellipse cx="1342.2" cy="1621.5" rx="3.6" ry="3.1"/><ellipse cx="1307.2" cy="1641.3" rx="3.6" ry="3.1"/><ellipse cx="1313.2" cy="1642.3" rx="3.6" ry="3.1"/><ellipse cx="1336.7" cy="1649.3" rx="3.6" ry="3.1"/><ellipse cx="1321.7" cy="1660.6" rx="3.6" ry="3.1"/><ellipse cx="1318.6" cy="1665.5" rx="3.6" ry="3.1"/><ellipse cx="1316.2" cy="1669.3" rx="3.6" ry="3.1"/><ellipse cx="1322.9" cy="1695.7" rx="3.6" ry="3.1"/><ellipse cx="1340.2" cy="1694.7" rx="3.6" ry="3.1"/><ellipse cx="1335.2" cy="1702.7" rx="3.6" ry="3.1"/><ellipse cx="1329.4" cy="1706.8" rx="3.6" ry="3.1"/><ellipse cx="1312.7" cy="1707.8" rx="3.6" ry="3.1"/><ellipse cx="1311.0" cy="1710.4" rx="3.6" ry="3.1"/><ellipse cx="1340.2" cy="1722.5" rx="3.6" ry="3.1"/><ellipse cx="1340.8" cy="1730.6" rx="3.6" ry="3.1"/><ellipse cx="1327.4" cy="1732.8" rx="3.6" ry="3.1"/><ellipse cx="1331.5" cy="1738.6" rx="3.6" ry="3.1"/><ellipse cx="1317.1" cy="1739.6" rx="3.6" ry="3.1"/><ellipse cx="1332.1" cy="1745.9" rx="3.6" ry="3.1"/><ellipse cx="1337.6" cy="1752.4" rx="3.6" ry="3.1"/><ellipse cx="1316.1" cy="1767.5" rx="3.6" ry="3.1"/><ellipse cx="1318.8" cy="1766.4" rx="3.6" ry="3.1"/><ellipse cx="1330.3" cy="1766.1" rx="3.6" ry="3.1"/><ellipse cx="1318.0" cy="1777.5" rx="3.6" ry="3.1"/><ellipse cx="1331.5" cy="1797.9" rx="3.6" ry="3.1"/><ellipse cx="1331.1" cy="1804.2" rx="3.6" ry="3.1"/><ellipse cx="1333.3" cy="1806.6" rx="3.6" ry="3.1"/><ellipse cx="1316.6" cy="1832.4" rx="3.6" ry="3.1"/><ellipse cx="1341.2" cy="1845.9" rx="3.6" ry="3.1"/><ellipse cx="1309.8" cy="1863.8" rx="3.6" ry="3.1"/><ellipse cx="1318.1" cy="1864.0" rx="3.6" ry="3.1"/><ellipse cx="1338.3" cy="1878.8" rx="3.6" ry="3.1"/><ellipse cx="1338.3" cy="1885.2" rx="3.6" ry="3.1"/><ellipse cx="1343.2" cy="1897.5" rx="3.6" ry="3.1"/></g>
<path d="M922.5 1309.1V1300.6H1076.0V1309.1" stroke="#2b2b2b" stroke-width="1.5" fill="none"/>
<text x="932.4" y="1295.8" font-size="28.0">n.s. p=0.06</text>
<path d="M919.5 1355.7V1344.7H1284.6V1355.7" stroke="#2b2b2b" stroke-width="1.5" fill="none"/>
<text x="1006.6" y="1339.9" font-size="28.0">*** p=1x10<tspan font-size="16.8" dy="-9">-9</tspan></text>
<path d="M1100.8 1392.5V1382.0H1282.8V1392.5" stroke="#2b2b2b" stroke-width="1.5" fill="none"/>
<text x="1106.8" y="1376.6" font-size="28.0">*** p=3x10<tspan font-size="16.8" dy="-9">-7</tspan></text>
<rect x="823.4" y="1259.6" width="535.6" height="776.6000000000001" fill="none" stroke="#222" stroke-width="1.6"/>
</g>
<g id="panel-e">
<rect x="1514.5" y="1377.2" width="517.0" height="606.0999999999999" fill="#fff" stroke="#d0d0d0" stroke-width="1.5"/>
<path d="M1514.5 1439.2H2031.5M1514.5 1502.6H2031.5M1514.5 1566.0H2031.5M1514.5 1629.5H2031.5M1514.5 1692.9H2031.5M1514.5 1756.3H2031.5M1514.5 1819.7H2031.5M1514.5 1883.1H2031.5M1514.5 1946.6H2031.5" stroke="#d0d0d0" stroke-width="1.5" fill="none"/>
<text x="1493.7" y="1446.8" font-size="28" text-anchor="end">0.52</text>
<text x="1493.7" y="1510.2" font-size="28" text-anchor="end">0.48</text>
<text x="1493.7" y="1573.6" font-size="28" text-anchor="end">0.44</text>
<text x="1493.7" y="1637.1" font-size="28" text-anchor="end">0.40</text>
<text x="1493.7" y="1700.5" font-size="28" text-anchor="end">0.36</text>
<text x="1493.7" y="1763.9" font-size="28" text-anchor="end">0.32</text>
<text x="1493.7" y="1827.3" font-size="28" text-anchor="end">0.28</text>
<text x="1493.7" y="1890.7" font-size="28" text-anchor="end">0.24</text>
<text x="1493.7" y="1954.2" font-size="28" text-anchor="end">0.20</text>
<text transform="translate(1416.1,1663.2) rotate(-90)" font-size="28.5" text-anchor="middle">Step length (m)</text>
<text x="1606.3" y="2075.4" font-size="28" text-anchor="middle">Score 0</text>
<text x="1785.6" y="2075.4" font-size="28" text-anchor="middle">Score 1</text>
<text x="1966.2" y="2075.4" font-size="28" text-anchor="middle">Score 2</text>
<text x="1406.0" y="1291.5" font-size="52.5" font-weight="bold">e</text>
<text x="1667.8" y="2017.6" font-size="33" font-style="italic">ρ</text>
<text x="1694.6" y="2017.6" font-size="27.3" textLength="86" lengthAdjust="spacingAndGlyphs">= -0.59</text>
<text x="1783.3" y="2017.6" font-size="30" font-weight="bold" font-style="italic">,</text>
<text x="1812.5" y="2017.6" font-size="27.3" textLength="107" lengthAdjust="spacingAndGlyphs">p = 2x10</text>
<text x="1920.3" y="2009.4" font-size="16.5">-12</text>
<path d="M1569.4 1405.4L1564.9 1405.4C1564.9 1410.9 1564.9 1427.1 1564.9 1438.3C1564.9 1449.5 1565.1 1463.4 1564.9 1472.5C1564.8 1481.6 1564.6 1486.4 1564.1 1493.0C1563.5 1499.5 1562.9 1505.5 1561.5 1511.8C1560.1 1518.0 1557.8 1524.3 1555.5 1530.6C1553.2 1536.8 1550.4 1543.1 1547.8 1549.4C1545.3 1555.6 1542.6 1561.9 1540.1 1568.2C1537.7 1574.4 1535.4 1580.7 1533.3 1586.9C1531.2 1593.2 1529.2 1599.5 1527.3 1605.7C1525.5 1612.0 1523.8 1618.3 1522.2 1624.5C1520.6 1630.8 1519.1 1637.6 1517.9 1643.3C1516.8 1649.0 1515.9 1654.6 1515.4 1658.7C1514.9 1662.8 1514.5 1663.1 1514.8 1668.0C1515.1 1672.9 1515.4 1681.3 1517.3 1688.0C1519.2 1694.7 1522.6 1701.5 1526.0 1708.2C1529.4 1714.9 1534.0 1722.2 1537.5 1728.4C1541.0 1734.6 1545.3 1742.7 1546.9 1745.5L1569.4 1745.5Z" fill="#9bbce3" stroke="#6e6e6e" stroke-width="1.2" stroke-linejoin="miter"/>
<path d="M1752.5 1547.7L1732.0 1547.7C1730.9 1550.2 1727.6 1557.6 1725.5 1563.0C1723.4 1568.4 1721.3 1574.4 1719.5 1580.1C1717.7 1585.8 1716.1 1591.5 1714.9 1597.2C1713.7 1602.9 1712.7 1608.6 1712.2 1614.3C1711.6 1620.0 1711.3 1625.7 1711.5 1631.4C1711.7 1637.1 1712.4 1643.0 1713.2 1648.4C1714.0 1653.9 1715.2 1658.7 1716.1 1663.8C1717.0 1668.9 1718.1 1673.6 1718.7 1679.2C1719.2 1684.7 1719.7 1691.3 1719.5 1697.1C1719.4 1702.9 1718.3 1707.9 1717.8 1714.2C1717.3 1720.4 1716.6 1727.8 1716.6 1734.7C1716.6 1741.5 1716.9 1748.3 1717.8 1755.2C1718.7 1762.0 1720.2 1768.8 1722.1 1775.7C1723.9 1782.5 1726.5 1789.3 1728.9 1796.2C1731.3 1803.0 1734.2 1809.8 1736.6 1816.7C1739.0 1823.5 1741.4 1830.3 1743.4 1837.2C1745.4 1844.0 1747.3 1850.8 1748.5 1857.7C1749.8 1864.5 1750.3 1870.8 1750.8 1878.2C1751.3 1885.6 1751.5 1893.8 1751.5 1902.1C1751.4 1910.3 1750.6 1919.7 1750.3 1927.7C1749.9 1935.7 1749.6 1942.9 1749.4 1949.9C1749.2 1956.9 1749.1 1966.3 1749.1 1969.5L1752.5 1969.5Z" fill="#e0aaaa" stroke="#6e6e6e" stroke-width="1.2" stroke-linejoin="miter"/>
<path d="M1935.4 1503.2L1930.8 1503.2C1930.8 1506.7 1930.7 1516.1 1930.8 1523.7C1930.9 1531.4 1931.2 1540.8 1931.3 1549.4C1931.5 1557.9 1931.8 1567.0 1931.7 1575.0C1931.5 1583.0 1931.1 1590.1 1930.5 1597.2C1929.9 1604.3 1929.0 1610.9 1928.3 1617.7C1927.5 1624.5 1926.8 1631.1 1926.0 1638.2C1925.3 1645.3 1924.7 1653.6 1924.0 1660.4C1923.3 1667.2 1922.7 1673.6 1921.9 1679.2C1921.2 1684.7 1920.9 1687.8 1919.7 1693.7C1918.5 1699.5 1916.7 1707.6 1914.6 1714.2C1912.5 1720.7 1909.9 1726.7 1906.9 1733.0C1903.9 1739.2 1899.8 1745.8 1896.7 1751.7C1893.5 1757.7 1890.3 1763.4 1888.1 1768.8C1885.9 1774.2 1884.3 1779.4 1883.3 1784.2C1882.3 1789.0 1881.9 1792.7 1882.1 1797.9C1882.4 1803.0 1883.3 1809.3 1884.7 1815.0C1886.1 1820.6 1888.4 1826.3 1890.7 1832.0C1893.0 1837.7 1895.8 1843.4 1898.4 1849.1C1900.9 1854.8 1903.6 1860.5 1906.1 1866.2C1908.5 1871.9 1910.9 1877.6 1912.9 1883.3C1914.9 1889.0 1916.6 1894.4 1918.0 1900.4C1919.4 1906.3 1920.5 1913.2 1921.4 1919.2C1922.4 1925.1 1923.0 1931.0 1923.6 1936.2C1924.3 1941.5 1925.1 1948.3 1925.4 1950.8L1935.4 1950.8Z" fill="#d6d0b5" stroke="#6e6e6e" stroke-width="1.2" stroke-linejoin="miter"/>
<rect x="1596.5" y="1594.3" width="18.8" height="95.0" fill="#fff" stroke="#707070" stroke-width="1.2"/>
<path d="M1605.9 1594.3V1466.0M1600.9 1466.0H1610.9M1605.9 1689.3V1745.4M1600.9 1745.4H1610.9M1596.5 1647.2H1615.3" stroke="#707070" stroke-width="1.2" fill="none"/>
<rect x="1779.3" y="1622.3" width="18.6" height="114.9" fill="#fff" stroke="#707070" stroke-width="1.2"/>
<path d="M1788.6 1622.3V1547.3M1783.6 1547.3H1793.6M1788.6 1737.2V1802.3M1783.6 1802.3H1793.6M1779.3 1652.7H1797.9" stroke="#707070" stroke-width="1.2" fill="none"/>
<rect x="1962.4" y="1756.4" width="19.2" height="79.9" fill="#fff" stroke="#707070" stroke-width="1.2"/>
<path d="M1972.0 1756.4V1637.0M1967.0 1637.0H1977.0M1972.0 1836.3V1950.8M1967.0 1950.8H1977.0M1962.4 1793.1H1981.6" stroke="#707070" stroke-width="1.2" fill="none"/>
<path d="M1605.6 1397.9L1611.0 1405.5L1605.6 1413.1L1600.2 1405.5Z" fill="#747474"/>
<path d="M1788.5 1961.9L1793.9 1969.5L1788.5 1977.1L1783.1 1969.5Z" fill="#747474"/>
<path d="M1971.8 1495.6L1977.2 1503.2L1971.8 1510.8L1966.4 1503.2Z" fill="#747474"/>
<path d="M1971.8 1537.5L1977.2 1545.1L1971.8 1552.7L1966.4 1545.1Z" fill="#747474"/>
<g fill="#8cb9ec"><ellipse cx="1624.7" cy="1405.5" rx="3.6" ry="3.1"/><ellipse cx="1647.6" cy="1466.2" rx="3.6" ry="3.1"/><ellipse cx="1640.8" cy="1532.6" rx="3.6" ry="3.1"/><ellipse cx="1651.9" cy="1556.2" rx="3.6" ry="3.1"/><ellipse cx="1655.8" cy="1563.4" rx="3.6" ry="3.1"/><ellipse cx="1650.0" cy="1565.3" rx="3.6" ry="3.1"/><ellipse cx="1643.3" cy="1565.9" rx="3.6" ry="3.1"/><ellipse cx="1648.6" cy="1584.9" rx="3.6" ry="3.1"/><ellipse cx="1650.5" cy="1590.5" rx="3.6" ry="3.1"/><ellipse cx="1624.5" cy="1592.1" rx="3.6" ry="3.1"/><ellipse cx="1629.5" cy="1602.0" rx="3.6" ry="3.1"/><ellipse cx="1631.7" cy="1606.1" rx="3.6" ry="3.1"/><ellipse cx="1658.9" cy="1612.9" rx="3.6" ry="3.1"/><ellipse cx="1651.5" cy="1622.5" rx="3.6" ry="3.1"/><ellipse cx="1643.1" cy="1627.1" rx="3.6" ry="3.1"/><ellipse cx="1628.6" cy="1628.5" rx="3.6" ry="3.1"/><ellipse cx="1641.6" cy="1630.8" rx="3.6" ry="3.1"/><ellipse cx="1641.4" cy="1642.6" rx="3.6" ry="3.1"/><ellipse cx="1657.0" cy="1643.1" rx="3.6" ry="3.1"/><ellipse cx="1630.9" cy="1652.0" rx="3.6" ry="3.1"/><ellipse cx="1639.7" cy="1663.0" rx="3.6" ry="3.1"/><ellipse cx="1657.2" cy="1662.4" rx="3.6" ry="3.1"/><ellipse cx="1659.5" cy="1665.9" rx="3.6" ry="3.1"/><ellipse cx="1651.7" cy="1668.1" rx="3.6" ry="3.1"/><ellipse cx="1639.6" cy="1670.1" rx="3.6" ry="3.1"/><ellipse cx="1634.6" cy="1676.3" rx="3.6" ry="3.1"/><ellipse cx="1645.4" cy="1680.2" rx="3.6" ry="3.1"/><ellipse cx="1624.2" cy="1689.3" rx="3.6" ry="3.1"/><ellipse cx="1654.3" cy="1688.8" rx="3.6" ry="3.1"/><ellipse cx="1644.9" cy="1697.1" rx="3.6" ry="3.1"/><ellipse cx="1645.4" cy="1680.9" rx="3.6" ry="3.1"/><ellipse cx="1642.1" cy="1700.2" rx="3.6" ry="3.1"/><ellipse cx="1647.1" cy="1700.5" rx="3.6" ry="3.1"/><ellipse cx="1653.9" cy="1707.0" rx="3.6" ry="3.1"/><ellipse cx="1657.0" cy="1717.8" rx="3.6" ry="3.1"/><ellipse cx="1648.4" cy="1722.7" rx="3.6" ry="3.1"/><ellipse cx="1638.4" cy="1735.3" rx="3.6" ry="3.1"/><ellipse cx="1637.3" cy="1742.5" rx="3.6" ry="3.1"/><ellipse cx="1645.9" cy="1745.6" rx="3.6" ry="3.1"/></g>
<g fill="#e89b9f"><ellipse cx="1821.8" cy="1547.1" rx="3.6" ry="3.1"/><ellipse cx="1831.2" cy="1554.8" rx="3.6" ry="3.1"/><ellipse cx="1819.3" cy="1563.0" rx="3.6" ry="3.1"/><ellipse cx="1814.8" cy="1564.4" rx="3.6" ry="3.1"/><ellipse cx="1835.8" cy="1566.3" rx="3.6" ry="3.1"/><ellipse cx="1813.1" cy="1579.4" rx="3.6" ry="3.1"/><ellipse cx="1810.2" cy="1582.8" rx="3.6" ry="3.1"/><ellipse cx="1811.1" cy="1599.2" rx="3.6" ry="3.1"/><ellipse cx="1839.1" cy="1607.4" rx="3.6" ry="3.1"/><ellipse cx="1841.5" cy="1620.6" rx="3.6" ry="3.1"/><ellipse cx="1811.4" cy="1624.5" rx="3.6" ry="3.1"/><ellipse cx="1815.9" cy="1627.1" rx="3.6" ry="3.1"/><ellipse cx="1838.6" cy="1634.8" rx="3.6" ry="3.1"/><ellipse cx="1818.8" cy="1639.9" rx="3.6" ry="3.1"/><ellipse cx="1838.9" cy="1641.1" rx="3.6" ry="3.1"/><ellipse cx="1834.8" cy="1642.1" rx="3.6" ry="3.1"/><ellipse cx="1812.6" cy="1651.0" rx="3.6" ry="3.1"/><ellipse cx="1811.9" cy="1652.7" rx="3.6" ry="3.1"/><ellipse cx="1823.2" cy="1652.4" rx="3.6" ry="3.1"/><ellipse cx="1810.2" cy="1686.8" rx="3.6" ry="3.1"/><ellipse cx="1813.5" cy="1696.2" rx="3.6" ry="3.1"/><ellipse cx="1820.6" cy="1710.1" rx="3.6" ry="3.1"/><ellipse cx="1842.3" cy="1711.4" rx="3.6" ry="3.1"/><ellipse cx="1829.4" cy="1718.8" rx="3.6" ry="3.1"/><ellipse cx="1842.0" cy="1723.6" rx="3.6" ry="3.1"/><ellipse cx="1841.3" cy="1729.9" rx="3.6" ry="3.1"/><ellipse cx="1839.9" cy="1734.3" rx="3.6" ry="3.1"/><ellipse cx="1836.4" cy="1736.7" rx="3.6" ry="3.1"/><ellipse cx="1811.2" cy="1737.7" rx="3.6" ry="3.1"/><ellipse cx="1810.9" cy="1754.5" rx="3.6" ry="3.1"/><ellipse cx="1821.3" cy="1762.8" rx="3.6" ry="3.1"/><ellipse cx="1818.9" cy="1777.2" rx="3.6" ry="3.1"/><ellipse cx="1828.8" cy="1782.0" rx="3.6" ry="3.1"/><ellipse cx="1835.5" cy="1785.6" rx="3.6" ry="3.1"/><ellipse cx="1816.4" cy="1787.1" rx="3.6" ry="3.1"/><ellipse cx="1842.8" cy="1795.1" rx="3.6" ry="3.1"/><ellipse cx="1811.1" cy="1802.3" rx="3.6" ry="3.1"/><ellipse cx="1837.2" cy="1969.5" rx="3.6" ry="3.1"/></g>
<g fill="#e0d9b0"><ellipse cx="1998.1" cy="1503.1" rx="3.6" ry="3.1"/><ellipse cx="2016.9" cy="1544.9" rx="3.6" ry="3.1"/><ellipse cx="1992.5" cy="1639.2" rx="3.6" ry="3.1"/><ellipse cx="2025.8" cy="1637.0" rx="3.6" ry="3.1"/><ellipse cx="2007.4" cy="1669.5" rx="3.6" ry="3.1"/><ellipse cx="1999.3" cy="1679.9" rx="3.6" ry="3.1"/><ellipse cx="1993.5" cy="1703.6" rx="3.6" ry="3.1"/><ellipse cx="2001.2" cy="1744.4" rx="3.6" ry="3.1"/><ellipse cx="1991.8" cy="1754.6" rx="3.6" ry="3.1"/><ellipse cx="1996.9" cy="1755.7" rx="3.6" ry="3.1"/><ellipse cx="2024.1" cy="1754.3" rx="3.6" ry="3.1"/><ellipse cx="1998.8" cy="1761.1" rx="3.6" ry="3.1"/><ellipse cx="1991.1" cy="1764.9" rx="3.6" ry="3.1"/><ellipse cx="2006.7" cy="1768.7" rx="3.6" ry="3.1"/><ellipse cx="2010.8" cy="1769.7" rx="3.6" ry="3.1"/><ellipse cx="2016.4" cy="1773.1" rx="3.6" ry="3.1"/><ellipse cx="2026.0" cy="1777.0" rx="3.6" ry="3.1"/><ellipse cx="2004.8" cy="1778.4" rx="3.6" ry="3.1"/><ellipse cx="2020.3" cy="1784.5" rx="3.6" ry="3.1"/><ellipse cx="2025.5" cy="1786.8" rx="3.6" ry="3.1"/><ellipse cx="2019.7" cy="1792.9" rx="3.6" ry="3.1"/><ellipse cx="2017.8" cy="1804.5" rx="3.6" ry="3.1"/><ellipse cx="2025.3" cy="1806.8" rx="3.6" ry="3.1"/><ellipse cx="2001.5" cy="1807.4" rx="3.6" ry="3.1"/><ellipse cx="1994.0" cy="1811.0" rx="3.6" ry="3.1"/><ellipse cx="2001.2" cy="1811.2" rx="3.6" ry="3.1"/><ellipse cx="2025.5" cy="1815.1" rx="3.6" ry="3.1"/><ellipse cx="1994.5" cy="1830.5" rx="3.6" ry="3.1"/><ellipse cx="2001.2" cy="1829.1" rx="3.6" ry="3.1"/><ellipse cx="2021.9" cy="1831.7" rx="3.6" ry="3.1"/><ellipse cx="2025.8" cy="1836.5" rx="3.6" ry="3.1"/><ellipse cx="2023.1" cy="1839.9" rx="3.6" ry="3.1"/><ellipse cx="2021.4" cy="1853.0" rx="3.6" ry="3.1"/><ellipse cx="1996.9" cy="1855.3" rx="3.6" ry="3.1"/><ellipse cx="1996.6" cy="1864.0" rx="3.6" ry="3.1"/><ellipse cx="2001.0" cy="1870.8" rx="3.6" ry="3.1"/><ellipse cx="2018.3" cy="1873.4" rx="3.6" ry="3.1"/><ellipse cx="2001.4" cy="1912.7" rx="3.6" ry="3.1"/><ellipse cx="2006.2" cy="1928.5" rx="3.6" ry="3.1"/><ellipse cx="1991.6" cy="1940.0" rx="3.6" ry="3.1"/><ellipse cx="2015.4" cy="1950.9" rx="3.6" ry="3.1"/></g>
<path d="M1574.9 1306.5V1298.0H1728.7V1306.5" stroke="#2b2b2b" stroke-width="1.5" fill="none"/>
<text x="1584.8" y="1294.4" font-size="28.0">n.s. p=0.1</text>
<path d="M1571.9 1356.8V1345.8H1937.3V1356.8" stroke="#2b2b2b" stroke-width="1.5" fill="none"/>
<text x="1660.1" y="1341.0" font-size="28.0">*** p=2x10<tspan font-size="16.8" dy="-9">-9</tspan></text>
<path d="M1753.3 1397.7V1386.7H1934.8V1397.7" stroke="#2b2b2b" stroke-width="1.5" fill="none"/>
<text x="1750.0" y="1380.3" font-size="28.0">*** p=3x10<tspan font-size="16.8" dy="-9">-6</tspan></text>
<rect x="1505.0" y="1259.6" width="539.0" height="777.0" fill="none" stroke="#222" stroke-width="1.6"/>
</g>
</svg>
</body></html>
